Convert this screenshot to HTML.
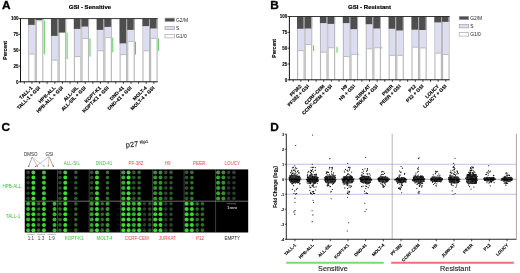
<!DOCTYPE html>
<html><head><meta charset="utf-8"><style>
html,body{margin:0;padding:0;background:#fff;overflow:hidden;}
svg{display:block;will-change:transform;}
</style></head><body>
<svg width="520" height="273" viewBox="0 0 520 273">
<rect width="520" height="273" fill="#fff"/>
<text transform="translate(2.0,9.3) scale(1.06,1)" font-family="Liberation Sans, sans-serif" font-weight="bold" font-size="11.2" fill="#000" stroke="#000" stroke-width="0.3">A</text>
<text transform="translate(270.2,9.4) scale(1.06,1)" font-family="Liberation Sans, sans-serif" font-weight="bold" font-size="11.2" fill="#000" stroke="#000" stroke-width="0.3">B</text>
<text transform="translate(1.6,131.0) scale(1.06,1)" font-family="Liberation Sans, sans-serif" font-weight="bold" font-size="11.2" fill="#000" stroke="#000" stroke-width="0.3">C</text>
<text transform="translate(270.2,131.0) scale(1.06,1)" font-family="Liberation Sans, sans-serif" font-weight="bold" font-size="11.2" fill="#000" stroke="#000" stroke-width="0.3">D</text>
<text x="90" y="9.1" font-family="Liberation Sans, sans-serif" font-weight="bold" font-size="6.05" stroke="#000" stroke-width="0.2" text-anchor="middle">GSI - Sensitive</text>
<rect x="28.12" y="18.60" width="1.15" height="63.20" fill="#b9b9b9"/>
<rect x="34.59" y="18.60" width="1.15" height="63.20" fill="#b9b9b9"/>
<rect x="29.27" y="24.90" width="5.32" height="29.20" fill="#dcdcf2"/>
<line x1="29.27" x2="34.59" y1="54.10" y2="54.10" stroke="#9a9a9a" stroke-width="0.6"/>
<rect x="28.12" y="18.60" width="6.62" height="6.30" fill="#4e4e4e"/>
<rect x="34.74" y="18.60" width="1.0" height="6.30" fill="#a8a8a8"/>
<rect x="35.74" y="18.60" width="1.15" height="63.20" fill="#b9b9b9"/>
<rect x="42.21" y="18.60" width="1.15" height="63.20" fill="#b9b9b9"/>
<rect x="36.89" y="20.00" width="5.32" height="0.80" fill="#dcdcf2"/>
<line x1="36.89" x2="42.21" y1="20.80" y2="20.80" stroke="#9a9a9a" stroke-width="0.6"/>
<rect x="35.74" y="18.60" width="6.62" height="1.40" fill="#4e4e4e"/>
<rect x="42.36" y="18.60" width="1.0" height="1.40" fill="#a8a8a8"/>
<rect x="50.98" y="18.60" width="1.15" height="63.20" fill="#b9b9b9"/>
<rect x="57.45" y="18.60" width="1.15" height="63.20" fill="#b9b9b9"/>
<rect x="52.13" y="35.90" width="5.32" height="24.30" fill="#dcdcf2"/>
<line x1="52.13" x2="57.45" y1="60.20" y2="60.20" stroke="#9a9a9a" stroke-width="0.6"/>
<rect x="50.98" y="18.60" width="6.62" height="17.30" fill="#4e4e4e"/>
<rect x="57.60" y="18.60" width="1.0" height="17.30" fill="#a8a8a8"/>
<rect x="58.60" y="18.60" width="1.15" height="63.20" fill="#b9b9b9"/>
<rect x="65.07" y="18.60" width="1.15" height="63.20" fill="#b9b9b9"/>
<rect x="58.60" y="18.60" width="6.62" height="14.00" fill="#4e4e4e"/>
<rect x="65.22" y="18.60" width="1.0" height="14.00" fill="#a8a8a8"/>
<rect x="73.84" y="18.60" width="1.15" height="63.20" fill="#b9b9b9"/>
<rect x="80.31" y="18.60" width="1.15" height="63.20" fill="#b9b9b9"/>
<rect x="74.99" y="28.90" width="5.32" height="27.60" fill="#dcdcf2"/>
<line x1="74.99" x2="80.31" y1="56.50" y2="56.50" stroke="#9a9a9a" stroke-width="0.6"/>
<rect x="73.84" y="18.60" width="6.62" height="10.30" fill="#4e4e4e"/>
<rect x="80.46" y="18.60" width="1.0" height="10.30" fill="#a8a8a8"/>
<rect x="81.46" y="18.60" width="1.15" height="63.20" fill="#b9b9b9"/>
<rect x="87.93" y="18.60" width="1.15" height="63.20" fill="#b9b9b9"/>
<rect x="82.61" y="26.60" width="5.32" height="11.80" fill="#dcdcf2"/>
<line x1="82.61" x2="87.93" y1="38.40" y2="38.40" stroke="#9a9a9a" stroke-width="0.6"/>
<rect x="81.46" y="18.60" width="6.62" height="8.00" fill="#4e4e4e"/>
<rect x="88.08" y="18.60" width="1.0" height="8.00" fill="#a8a8a8"/>
<rect x="96.70" y="18.60" width="1.15" height="63.20" fill="#b9b9b9"/>
<rect x="103.17" y="18.60" width="1.15" height="63.20" fill="#b9b9b9"/>
<rect x="97.85" y="29.90" width="5.32" height="20.90" fill="#dcdcf2"/>
<line x1="97.85" x2="103.17" y1="50.80" y2="50.80" stroke="#9a9a9a" stroke-width="0.6"/>
<rect x="96.70" y="18.60" width="6.62" height="11.30" fill="#4e4e4e"/>
<rect x="103.32" y="18.60" width="1.0" height="11.30" fill="#a8a8a8"/>
<rect x="104.32" y="18.60" width="1.15" height="63.20" fill="#b9b9b9"/>
<rect x="110.79" y="18.60" width="1.15" height="63.20" fill="#b9b9b9"/>
<rect x="105.47" y="26.90" width="5.32" height="10.70" fill="#dcdcf2"/>
<line x1="105.47" x2="110.79" y1="37.60" y2="37.60" stroke="#9a9a9a" stroke-width="0.6"/>
<rect x="104.32" y="18.60" width="6.62" height="8.30" fill="#4e4e4e"/>
<rect x="110.94" y="18.60" width="1.0" height="8.30" fill="#a8a8a8"/>
<rect x="119.56" y="18.60" width="1.15" height="63.20" fill="#b9b9b9"/>
<rect x="126.03" y="18.60" width="1.15" height="63.20" fill="#b9b9b9"/>
<rect x="120.71" y="43.40" width="5.32" height="11.20" fill="#dcdcf2"/>
<line x1="120.71" x2="126.03" y1="54.60" y2="54.60" stroke="#9a9a9a" stroke-width="0.6"/>
<rect x="119.56" y="18.60" width="6.62" height="24.80" fill="#4e4e4e"/>
<rect x="126.18" y="18.60" width="1.0" height="24.80" fill="#a8a8a8"/>
<rect x="127.18" y="18.60" width="1.15" height="63.20" fill="#b9b9b9"/>
<rect x="133.65" y="18.60" width="1.15" height="63.20" fill="#b9b9b9"/>
<rect x="128.33" y="29.90" width="5.32" height="11.50" fill="#dcdcf2"/>
<line x1="128.33" x2="133.65" y1="41.40" y2="41.40" stroke="#9a9a9a" stroke-width="0.6"/>
<rect x="127.18" y="18.60" width="6.62" height="11.30" fill="#4e4e4e"/>
<rect x="133.80" y="18.60" width="1.0" height="11.30" fill="#a8a8a8"/>
<rect x="142.42" y="18.60" width="1.15" height="63.20" fill="#b9b9b9"/>
<rect x="148.89" y="18.60" width="1.15" height="63.20" fill="#b9b9b9"/>
<rect x="143.57" y="26.10" width="5.32" height="24.70" fill="#dcdcf2"/>
<line x1="143.57" x2="148.89" y1="50.80" y2="50.80" stroke="#9a9a9a" stroke-width="0.6"/>
<rect x="142.42" y="18.60" width="6.62" height="7.50" fill="#4e4e4e"/>
<rect x="149.04" y="18.60" width="1.0" height="7.50" fill="#a8a8a8"/>
<rect x="150.04" y="18.60" width="1.15" height="63.20" fill="#b9b9b9"/>
<rect x="156.51" y="18.60" width="1.15" height="63.20" fill="#b9b9b9"/>
<rect x="151.19" y="28.50" width="5.32" height="9.90" fill="#dcdcf2"/>
<line x1="151.19" x2="156.51" y1="38.40" y2="38.40" stroke="#9a9a9a" stroke-width="0.6"/>
<rect x="150.04" y="18.60" width="6.62" height="9.90" fill="#4e4e4e"/>
<rect x="156.66" y="18.60" width="1.0" height="9.90" fill="#a8a8a8"/>
<line x1="44.3" x2="44.3" y1="20.5" y2="54" stroke="#58cc58" stroke-width="1.0"/>
<line x1="67.1" x2="67.1" y1="32.6" y2="59" stroke="#58cc58" stroke-width="1.0"/>
<line x1="90.0" x2="90.0" y1="38.4" y2="56.5" stroke="#58cc58" stroke-width="1.0"/>
<line x1="112.8" x2="112.8" y1="37.6" y2="52.4" stroke="#58cc58" stroke-width="1.0"/>
<line x1="135.5" x2="135.5" y1="41.7" y2="54.6" stroke="#58cc58" stroke-width="1.0"/>
<line x1="158.4" x2="158.4" y1="38.4" y2="50.8" stroke="#58cc58" stroke-width="1.0"/>
<line x1="20.50" x2="20.50" y1="18.10" y2="82.30" stroke="#111" stroke-width="1"/>
<line x1="20.00" x2="157.66" y1="81.80" y2="81.80" stroke="#111" stroke-width="1"/>
<line x1="20.50" x2="157.66" y1="18.60" y2="18.60" stroke="#222" stroke-width="0.9"/>
<line x1="18.70" x2="20.50" y1="81.80" y2="81.80" stroke="#111" stroke-width="0.8"/>
<text x="18.40" y="83.50" font-family="Liberation Sans, sans-serif" font-weight="bold" font-size="4.5" stroke="#000" stroke-width="0.1" text-anchor="end">0</text>
<line x1="18.70" x2="20.50" y1="66.00" y2="66.00" stroke="#111" stroke-width="0.8"/>
<text x="18.40" y="67.70" font-family="Liberation Sans, sans-serif" font-weight="bold" font-size="4.5" stroke="#000" stroke-width="0.1" text-anchor="end">25</text>
<line x1="18.70" x2="20.50" y1="50.20" y2="50.20" stroke="#111" stroke-width="0.8"/>
<text x="18.40" y="51.90" font-family="Liberation Sans, sans-serif" font-weight="bold" font-size="4.5" stroke="#000" stroke-width="0.1" text-anchor="end">50</text>
<line x1="18.70" x2="20.50" y1="34.40" y2="34.40" stroke="#111" stroke-width="0.8"/>
<text x="18.40" y="36.10" font-family="Liberation Sans, sans-serif" font-weight="bold" font-size="4.5" stroke="#000" stroke-width="0.1" text-anchor="end">75</text>
<line x1="18.70" x2="20.50" y1="18.60" y2="18.60" stroke="#111" stroke-width="0.8"/>
<text x="18.40" y="20.30" font-family="Liberation Sans, sans-serif" font-weight="bold" font-size="4.5" stroke="#000" stroke-width="0.1" text-anchor="end">100</text>
<line x1="24.31" x2="24.31" y1="81.80" y2="83.80" stroke="#111" stroke-width="0.8"/>
<line x1="31.93" x2="31.93" y1="81.80" y2="83.80" stroke="#111" stroke-width="0.8"/>
<line x1="39.55" x2="39.55" y1="81.80" y2="83.80" stroke="#111" stroke-width="0.8"/>
<line x1="47.17" x2="47.17" y1="81.80" y2="83.80" stroke="#111" stroke-width="0.8"/>
<line x1="54.79" x2="54.79" y1="81.80" y2="83.80" stroke="#111" stroke-width="0.8"/>
<line x1="62.41" x2="62.41" y1="81.80" y2="83.80" stroke="#111" stroke-width="0.8"/>
<line x1="70.03" x2="70.03" y1="81.80" y2="83.80" stroke="#111" stroke-width="0.8"/>
<line x1="77.65" x2="77.65" y1="81.80" y2="83.80" stroke="#111" stroke-width="0.8"/>
<line x1="85.27" x2="85.27" y1="81.80" y2="83.80" stroke="#111" stroke-width="0.8"/>
<line x1="92.89" x2="92.89" y1="81.80" y2="83.80" stroke="#111" stroke-width="0.8"/>
<line x1="100.51" x2="100.51" y1="81.80" y2="83.80" stroke="#111" stroke-width="0.8"/>
<line x1="108.13" x2="108.13" y1="81.80" y2="83.80" stroke="#111" stroke-width="0.8"/>
<line x1="115.75" x2="115.75" y1="81.80" y2="83.80" stroke="#111" stroke-width="0.8"/>
<line x1="123.37" x2="123.37" y1="81.80" y2="83.80" stroke="#111" stroke-width="0.8"/>
<line x1="130.99" x2="130.99" y1="81.80" y2="83.80" stroke="#111" stroke-width="0.8"/>
<line x1="138.61" x2="138.61" y1="81.80" y2="83.80" stroke="#111" stroke-width="0.8"/>
<line x1="146.23" x2="146.23" y1="81.80" y2="83.80" stroke="#111" stroke-width="0.8"/>
<line x1="153.85" x2="153.85" y1="81.80" y2="83.80" stroke="#111" stroke-width="0.8"/>
<text transform="translate(6.5,50.4) rotate(-90)" font-family="Liberation Sans, sans-serif" font-weight="bold" font-size="5.1" stroke="#000" stroke-width="0.12" text-anchor="middle">Percent</text>
<text transform="translate(32.93,88.20) rotate(-45)" font-family="Liberation Sans, sans-serif" font-weight="bold" font-size="4.9" stroke="#000" stroke-width="0.12" text-anchor="end">TALL-1</text>
<text transform="translate(40.55,88.20) rotate(-45)" font-family="Liberation Sans, sans-serif" font-weight="bold" font-size="4.9" stroke="#000" stroke-width="0.12" text-anchor="end">TALL-1 + GSI</text>
<text transform="translate(55.79,88.20) rotate(-45)" font-family="Liberation Sans, sans-serif" font-weight="bold" font-size="4.9" stroke="#000" stroke-width="0.12" text-anchor="end">HPB-ALL</text>
<text transform="translate(63.41,88.20) rotate(-45)" font-family="Liberation Sans, sans-serif" font-weight="bold" font-size="4.9" stroke="#000" stroke-width="0.12" text-anchor="end">HPB-ALL + GSI</text>
<text transform="translate(78.65,88.20) rotate(-45)" font-family="Liberation Sans, sans-serif" font-weight="bold" font-size="4.9" stroke="#000" stroke-width="0.12" text-anchor="end">ALL-SIL</text>
<text transform="translate(86.27,88.20) rotate(-45)" font-family="Liberation Sans, sans-serif" font-weight="bold" font-size="4.9" stroke="#000" stroke-width="0.12" text-anchor="end">ALL-SIL + GSI</text>
<text transform="translate(101.51,88.20) rotate(-45)" font-family="Liberation Sans, sans-serif" font-weight="bold" font-size="4.9" stroke="#000" stroke-width="0.12" text-anchor="end">KOPT-K1</text>
<text transform="translate(109.13,88.20) rotate(-45)" font-family="Liberation Sans, sans-serif" font-weight="bold" font-size="4.9" stroke="#000" stroke-width="0.12" text-anchor="end">KOPT-K1 + GSI</text>
<text transform="translate(124.37,88.20) rotate(-45)" font-family="Liberation Sans, sans-serif" font-weight="bold" font-size="4.9" stroke="#000" stroke-width="0.12" text-anchor="end">DND-41</text>
<text transform="translate(131.99,88.20) rotate(-45)" font-family="Liberation Sans, sans-serif" font-weight="bold" font-size="4.9" stroke="#000" stroke-width="0.12" text-anchor="end">DND-41 + GSI</text>
<text transform="translate(147.23,88.20) rotate(-45)" font-family="Liberation Sans, sans-serif" font-weight="bold" font-size="4.9" stroke="#000" stroke-width="0.12" text-anchor="end">MOLT-4</text>
<text transform="translate(154.85,88.20) rotate(-45)" font-family="Liberation Sans, sans-serif" font-weight="bold" font-size="4.9" stroke="#000" stroke-width="0.12" text-anchor="end">MOLT-4 + GSI</text>
<rect x="165" y="18.1" width="9.5" height="3.4" fill="#4e4e4e" stroke="#999" stroke-width="0.6"/>
<text x="176" y="21.6" font-family="Liberation Sans, sans-serif" font-size="4.9" fill="#222">G2/M</text>
<rect x="165" y="26.3" width="9.5" height="3.4" fill="#dcdcf2" stroke="#999" stroke-width="0.6"/>
<text x="176" y="29.8" font-family="Liberation Sans, sans-serif" font-size="4.9" fill="#222">S</text>
<rect x="165" y="34.5" width="9.5" height="3.4" fill="#fff" stroke="#999" stroke-width="0.6"/>
<text x="176" y="38.0" font-family="Liberation Sans, sans-serif" font-size="4.9" fill="#222">G1/0</text>
<text x="369.5" y="9.1" font-family="Liberation Sans, sans-serif" font-weight="bold" font-size="6.05" stroke="#000" stroke-width="0.2" text-anchor="middle">GSI - Resistant</text>
<rect x="297.03" y="16.50" width="1.15" height="63.30" fill="#b9b9b9"/>
<rect x="303.51" y="16.50" width="1.15" height="63.30" fill="#b9b9b9"/>
<rect x="298.18" y="28.80" width="5.33" height="21.80" fill="#dcdcf2"/>
<line x1="298.18" x2="303.51" y1="50.60" y2="50.60" stroke="#9a9a9a" stroke-width="0.6"/>
<rect x="297.03" y="16.50" width="6.63" height="12.30" fill="#4e4e4e"/>
<rect x="303.66" y="16.50" width="1.0" height="12.30" fill="#a8a8a8"/>
<rect x="304.66" y="16.50" width="1.15" height="63.30" fill="#b9b9b9"/>
<rect x="311.14" y="16.50" width="1.15" height="63.30" fill="#b9b9b9"/>
<rect x="305.81" y="28.50" width="5.33" height="16.00" fill="#dcdcf2"/>
<line x1="305.81" x2="311.14" y1="44.50" y2="44.50" stroke="#9a9a9a" stroke-width="0.6"/>
<rect x="304.66" y="16.50" width="6.63" height="12.00" fill="#4e4e4e"/>
<rect x="311.29" y="16.50" width="1.0" height="12.00" fill="#a8a8a8"/>
<rect x="319.92" y="16.50" width="1.15" height="63.30" fill="#b9b9b9"/>
<rect x="326.40" y="16.50" width="1.15" height="63.30" fill="#b9b9b9"/>
<rect x="321.07" y="23.10" width="5.33" height="29.10" fill="#dcdcf2"/>
<line x1="321.07" x2="326.40" y1="52.20" y2="52.20" stroke="#9a9a9a" stroke-width="0.6"/>
<rect x="319.92" y="16.50" width="6.63" height="6.60" fill="#4e4e4e"/>
<rect x="326.55" y="16.50" width="1.0" height="6.60" fill="#a8a8a8"/>
<rect x="327.55" y="16.50" width="1.15" height="63.30" fill="#b9b9b9"/>
<rect x="334.03" y="16.50" width="1.15" height="63.30" fill="#b9b9b9"/>
<rect x="328.70" y="23.90" width="5.33" height="23.90" fill="#dcdcf2"/>
<line x1="328.70" x2="334.03" y1="47.80" y2="47.80" stroke="#9a9a9a" stroke-width="0.6"/>
<rect x="327.55" y="16.50" width="6.63" height="7.40" fill="#4e4e4e"/>
<rect x="334.18" y="16.50" width="1.0" height="7.40" fill="#a8a8a8"/>
<rect x="342.81" y="16.50" width="1.15" height="63.30" fill="#b9b9b9"/>
<rect x="349.29" y="16.50" width="1.15" height="63.30" fill="#b9b9b9"/>
<rect x="343.96" y="23.10" width="5.33" height="33.40" fill="#dcdcf2"/>
<line x1="343.96" x2="349.29" y1="56.50" y2="56.50" stroke="#9a9a9a" stroke-width="0.6"/>
<rect x="342.81" y="16.50" width="6.63" height="6.60" fill="#4e4e4e"/>
<rect x="349.44" y="16.50" width="1.0" height="6.60" fill="#a8a8a8"/>
<rect x="350.44" y="16.50" width="1.15" height="63.30" fill="#b9b9b9"/>
<rect x="356.92" y="16.50" width="1.15" height="63.30" fill="#b9b9b9"/>
<rect x="351.59" y="29.20" width="5.33" height="25.20" fill="#dcdcf2"/>
<line x1="351.59" x2="356.92" y1="54.40" y2="54.40" stroke="#9a9a9a" stroke-width="0.6"/>
<rect x="350.44" y="16.50" width="6.63" height="12.70" fill="#4e4e4e"/>
<rect x="357.07" y="16.50" width="1.0" height="12.70" fill="#a8a8a8"/>
<rect x="365.70" y="16.50" width="1.15" height="63.30" fill="#b9b9b9"/>
<rect x="372.18" y="16.50" width="1.15" height="63.30" fill="#b9b9b9"/>
<rect x="366.85" y="24.20" width="5.33" height="24.70" fill="#dcdcf2"/>
<line x1="366.85" x2="372.18" y1="48.90" y2="48.90" stroke="#9a9a9a" stroke-width="0.6"/>
<rect x="365.70" y="16.50" width="6.63" height="7.70" fill="#4e4e4e"/>
<rect x="372.33" y="16.50" width="1.0" height="7.70" fill="#a8a8a8"/>
<rect x="373.33" y="16.50" width="1.15" height="63.30" fill="#b9b9b9"/>
<rect x="379.81" y="16.50" width="1.15" height="63.30" fill="#b9b9b9"/>
<rect x="374.48" y="28.50" width="5.33" height="19.30" fill="#dcdcf2"/>
<line x1="374.48" x2="379.81" y1="47.80" y2="47.80" stroke="#9a9a9a" stroke-width="0.6"/>
<rect x="373.33" y="16.50" width="6.63" height="12.00" fill="#4e4e4e"/>
<rect x="379.96" y="16.50" width="1.0" height="12.00" fill="#a8a8a8"/>
<rect x="388.59" y="16.50" width="1.15" height="63.30" fill="#b9b9b9"/>
<rect x="395.07" y="16.50" width="1.15" height="63.30" fill="#b9b9b9"/>
<rect x="389.74" y="28.80" width="5.33" height="26.60" fill="#dcdcf2"/>
<line x1="389.74" x2="395.07" y1="55.40" y2="55.40" stroke="#9a9a9a" stroke-width="0.6"/>
<rect x="388.59" y="16.50" width="6.63" height="12.30" fill="#4e4e4e"/>
<rect x="395.22" y="16.50" width="1.0" height="12.30" fill="#a8a8a8"/>
<rect x="396.22" y="16.50" width="1.15" height="63.30" fill="#b9b9b9"/>
<rect x="402.70" y="16.50" width="1.15" height="63.30" fill="#b9b9b9"/>
<rect x="397.37" y="30.50" width="5.33" height="24.90" fill="#dcdcf2"/>
<line x1="397.37" x2="402.70" y1="55.40" y2="55.40" stroke="#9a9a9a" stroke-width="0.6"/>
<rect x="396.22" y="16.50" width="6.63" height="14.00" fill="#4e4e4e"/>
<rect x="402.85" y="16.50" width="1.0" height="14.00" fill="#a8a8a8"/>
<rect x="411.48" y="16.50" width="1.15" height="63.30" fill="#b9b9b9"/>
<rect x="417.96" y="16.50" width="1.15" height="63.30" fill="#b9b9b9"/>
<rect x="412.63" y="29.70" width="5.33" height="17.50" fill="#dcdcf2"/>
<line x1="412.63" x2="417.96" y1="47.20" y2="47.20" stroke="#9a9a9a" stroke-width="0.6"/>
<rect x="411.48" y="16.50" width="6.63" height="13.20" fill="#4e4e4e"/>
<rect x="418.11" y="16.50" width="1.0" height="13.20" fill="#a8a8a8"/>
<rect x="419.11" y="16.50" width="1.15" height="63.30" fill="#b9b9b9"/>
<rect x="425.59" y="16.50" width="1.15" height="63.30" fill="#b9b9b9"/>
<rect x="420.26" y="30.00" width="5.33" height="18.00" fill="#dcdcf2"/>
<line x1="420.26" x2="425.59" y1="48.00" y2="48.00" stroke="#9a9a9a" stroke-width="0.6"/>
<rect x="419.11" y="16.50" width="6.63" height="13.50" fill="#4e4e4e"/>
<rect x="425.74" y="16.50" width="1.0" height="13.50" fill="#a8a8a8"/>
<rect x="434.37" y="16.50" width="1.15" height="63.30" fill="#b9b9b9"/>
<rect x="440.85" y="16.50" width="1.15" height="63.30" fill="#b9b9b9"/>
<rect x="435.52" y="22.40" width="5.33" height="30.80" fill="#dcdcf2"/>
<line x1="435.52" x2="440.85" y1="53.20" y2="53.20" stroke="#9a9a9a" stroke-width="0.6"/>
<rect x="434.37" y="16.50" width="6.63" height="5.90" fill="#4e4e4e"/>
<rect x="441.00" y="16.50" width="1.0" height="5.90" fill="#a8a8a8"/>
<rect x="442.00" y="16.50" width="1.15" height="63.30" fill="#b9b9b9"/>
<rect x="448.48" y="16.50" width="1.15" height="63.30" fill="#b9b9b9"/>
<rect x="443.15" y="21.90" width="5.33" height="32.60" fill="#dcdcf2"/>
<line x1="443.15" x2="448.48" y1="54.50" y2="54.50" stroke="#9a9a9a" stroke-width="0.6"/>
<rect x="442.00" y="16.50" width="6.63" height="5.40" fill="#4e4e4e"/>
<rect x="448.63" y="16.50" width="1.0" height="5.40" fill="#a8a8a8"/>
<line x1="313.6" x2="313.6" y1="45.3" y2="51" stroke="#58cc58" stroke-width="1.0"/>
<line x1="337.0" x2="337.0" y1="47" y2="52.7" stroke="#58cc58" stroke-width="1.0"/>
<line x1="358.0" x2="358.0" y1="53.5" y2="55" stroke="#58cc58" stroke-width="1.0"/>
<line x1="381.2" x2="381.2" y1="47" y2="48.6" stroke="#58cc58" stroke-width="1.0"/>
<line x1="289.40" x2="289.40" y1="16.00" y2="80.30" stroke="#111" stroke-width="1"/>
<line x1="288.90" x2="449.63" y1="79.80" y2="79.80" stroke="#111" stroke-width="1"/>
<line x1="289.40" x2="449.63" y1="16.50" y2="16.50" stroke="#222" stroke-width="0.9"/>
<line x1="287.60" x2="289.40" y1="79.80" y2="79.80" stroke="#111" stroke-width="0.8"/>
<text x="287.30" y="81.50" font-family="Liberation Sans, sans-serif" font-weight="bold" font-size="4.5" stroke="#000" stroke-width="0.1" text-anchor="end">0</text>
<line x1="287.60" x2="289.40" y1="63.97" y2="63.97" stroke="#111" stroke-width="0.8"/>
<text x="287.30" y="65.67" font-family="Liberation Sans, sans-serif" font-weight="bold" font-size="4.5" stroke="#000" stroke-width="0.1" text-anchor="end">25</text>
<line x1="287.60" x2="289.40" y1="48.15" y2="48.15" stroke="#111" stroke-width="0.8"/>
<text x="287.30" y="49.85" font-family="Liberation Sans, sans-serif" font-weight="bold" font-size="4.5" stroke="#000" stroke-width="0.1" text-anchor="end">50</text>
<line x1="287.60" x2="289.40" y1="32.32" y2="32.32" stroke="#111" stroke-width="0.8"/>
<text x="287.30" y="34.02" font-family="Liberation Sans, sans-serif" font-weight="bold" font-size="4.5" stroke="#000" stroke-width="0.1" text-anchor="end">75</text>
<line x1="287.60" x2="289.40" y1="16.50" y2="16.50" stroke="#111" stroke-width="0.8"/>
<text x="287.30" y="18.20" font-family="Liberation Sans, sans-serif" font-weight="bold" font-size="4.5" stroke="#000" stroke-width="0.1" text-anchor="end">100</text>
<line x1="293.21" x2="293.21" y1="79.80" y2="81.80" stroke="#111" stroke-width="0.8"/>
<line x1="300.84" x2="300.84" y1="79.80" y2="81.80" stroke="#111" stroke-width="0.8"/>
<line x1="308.47" x2="308.47" y1="79.80" y2="81.80" stroke="#111" stroke-width="0.8"/>
<line x1="316.10" x2="316.10" y1="79.80" y2="81.80" stroke="#111" stroke-width="0.8"/>
<line x1="323.73" x2="323.73" y1="79.80" y2="81.80" stroke="#111" stroke-width="0.8"/>
<line x1="331.36" x2="331.36" y1="79.80" y2="81.80" stroke="#111" stroke-width="0.8"/>
<line x1="339.00" x2="339.00" y1="79.80" y2="81.80" stroke="#111" stroke-width="0.8"/>
<line x1="346.62" x2="346.62" y1="79.80" y2="81.80" stroke="#111" stroke-width="0.8"/>
<line x1="354.25" x2="354.25" y1="79.80" y2="81.80" stroke="#111" stroke-width="0.8"/>
<line x1="361.88" x2="361.88" y1="79.80" y2="81.80" stroke="#111" stroke-width="0.8"/>
<line x1="369.51" x2="369.51" y1="79.80" y2="81.80" stroke="#111" stroke-width="0.8"/>
<line x1="377.14" x2="377.14" y1="79.80" y2="81.80" stroke="#111" stroke-width="0.8"/>
<line x1="384.77" x2="384.77" y1="79.80" y2="81.80" stroke="#111" stroke-width="0.8"/>
<line x1="392.40" x2="392.40" y1="79.80" y2="81.80" stroke="#111" stroke-width="0.8"/>
<line x1="400.03" x2="400.03" y1="79.80" y2="81.80" stroke="#111" stroke-width="0.8"/>
<line x1="407.66" x2="407.66" y1="79.80" y2="81.80" stroke="#111" stroke-width="0.8"/>
<line x1="415.29" x2="415.29" y1="79.80" y2="81.80" stroke="#111" stroke-width="0.8"/>
<line x1="422.92" x2="422.92" y1="79.80" y2="81.80" stroke="#111" stroke-width="0.8"/>
<line x1="430.55" x2="430.55" y1="79.80" y2="81.80" stroke="#111" stroke-width="0.8"/>
<line x1="438.18" x2="438.18" y1="79.80" y2="81.80" stroke="#111" stroke-width="0.8"/>
<line x1="445.81" x2="445.81" y1="79.80" y2="81.80" stroke="#111" stroke-width="0.8"/>
<text transform="translate(275.9,48.3) rotate(-90)" font-family="Liberation Sans, sans-serif" font-weight="bold" font-size="5.1" stroke="#000" stroke-width="0.12" text-anchor="middle">Percent</text>
<text transform="translate(301.94,86.60) rotate(-45)" font-family="Liberation Sans, sans-serif" font-weight="bold" font-size="4.9" stroke="#000" stroke-width="0.12" text-anchor="end">PF382</text>
<text transform="translate(309.57,86.60) rotate(-45)" font-family="Liberation Sans, sans-serif" font-weight="bold" font-size="4.9" stroke="#000" stroke-width="0.12" text-anchor="end">PF382 + GSI</text>
<text transform="translate(324.83,86.60) rotate(-45)" font-family="Liberation Sans, sans-serif" font-weight="bold" font-size="4.9" stroke="#000" stroke-width="0.12" text-anchor="end">CCRF-CEM</text>
<text transform="translate(332.46,86.60) rotate(-45)" font-family="Liberation Sans, sans-serif" font-weight="bold" font-size="4.9" stroke="#000" stroke-width="0.12" text-anchor="end">CCRF-CEM + GSI</text>
<text transform="translate(347.73,86.60) rotate(-45)" font-family="Liberation Sans, sans-serif" font-weight="bold" font-size="4.9" stroke="#000" stroke-width="0.12" text-anchor="end">H9</text>
<text transform="translate(355.36,86.60) rotate(-45)" font-family="Liberation Sans, sans-serif" font-weight="bold" font-size="4.9" stroke="#000" stroke-width="0.12" text-anchor="end">H9 + GSI</text>
<text transform="translate(370.62,86.60) rotate(-45)" font-family="Liberation Sans, sans-serif" font-weight="bold" font-size="4.9" stroke="#000" stroke-width="0.12" text-anchor="end">JURKAT</text>
<text transform="translate(378.25,86.60) rotate(-45)" font-family="Liberation Sans, sans-serif" font-weight="bold" font-size="4.9" stroke="#000" stroke-width="0.12" text-anchor="end">JURKAT + GSI</text>
<text transform="translate(393.50,86.60) rotate(-45)" font-family="Liberation Sans, sans-serif" font-weight="bold" font-size="4.9" stroke="#000" stroke-width="0.12" text-anchor="end">PEER</text>
<text transform="translate(401.13,86.60) rotate(-45)" font-family="Liberation Sans, sans-serif" font-weight="bold" font-size="4.9" stroke="#000" stroke-width="0.12" text-anchor="end">PEER + GSI</text>
<text transform="translate(416.39,86.60) rotate(-45)" font-family="Liberation Sans, sans-serif" font-weight="bold" font-size="4.9" stroke="#000" stroke-width="0.12" text-anchor="end">P12</text>
<text transform="translate(424.02,86.60) rotate(-45)" font-family="Liberation Sans, sans-serif" font-weight="bold" font-size="4.9" stroke="#000" stroke-width="0.12" text-anchor="end">P12 + GSI</text>
<text transform="translate(439.28,86.60) rotate(-45)" font-family="Liberation Sans, sans-serif" font-weight="bold" font-size="4.9" stroke="#000" stroke-width="0.12" text-anchor="end">LOUCY</text>
<text transform="translate(446.91,86.60) rotate(-45)" font-family="Liberation Sans, sans-serif" font-weight="bold" font-size="4.9" stroke="#000" stroke-width="0.12" text-anchor="end">LOUCY + GSI</text>
<rect x="459.2" y="16.3" width="9.5" height="3.4" fill="#4e4e4e" stroke="#999" stroke-width="0.6"/>
<text x="470.2" y="19.8" font-family="Liberation Sans, sans-serif" font-size="4.9" fill="#222">G2/M</text>
<rect x="459.2" y="24.5" width="9.5" height="3.4" fill="#dcdcf2" stroke="#999" stroke-width="0.6"/>
<text x="470.2" y="28.0" font-family="Liberation Sans, sans-serif" font-size="4.9" fill="#222">S</text>
<rect x="459.2" y="32.7" width="9.5" height="3.4" fill="#fff" stroke="#999" stroke-width="0.6"/>
<text x="470.2" y="36.2" font-family="Liberation Sans, sans-serif" font-size="4.9" fill="#222">G1/0</text>
<rect x="24.75" y="169.4" width="223.45" height="63.10" fill="#000"/>
<defs><filter id="bl" x="-20%" y="-20%" width="140%" height="140%"><feGaussianBlur stdDeviation="0.5"/></filter></defs>
<g filter="url(#bl)">
<circle cx="28.10" cy="172.40" r="1.8" fill="rgb(58,70,58)"/>
<circle cx="28.10" cy="177.60" r="1.8" fill="rgb(44,69,43)"/>
<circle cx="28.10" cy="182.80" r="1.8" fill="rgb(44,69,43)"/>
<circle cx="28.10" cy="188.00" r="1.8" fill="rgb(44,69,43)"/>
<circle cx="28.10" cy="193.20" r="1.8" fill="rgb(44,69,43)"/>
<circle cx="28.10" cy="198.40" r="1.8" fill="rgb(44,69,43)"/>
<circle cx="33.38" cy="172.40" r="2.0" fill="rgb(90,190,90)"/>
<circle cx="33.38" cy="177.60" r="2.0" fill="rgb(60,225,48)"/>
<circle cx="33.38" cy="182.80" r="2.0" fill="rgb(60,225,48)"/>
<circle cx="33.38" cy="188.00" r="2.0" fill="rgb(60,225,48)"/>
<circle cx="33.38" cy="193.20" r="2.0" fill="rgb(60,225,48)"/>
<circle cx="33.38" cy="198.40" r="2.0" fill="rgb(60,225,48)"/>
<circle cx="43.94" cy="172.40" r="2.0" fill="rgb(86,175,86)"/>
<circle cx="43.94" cy="177.60" r="2.0" fill="rgb(58,205,47)"/>
<circle cx="43.94" cy="182.80" r="2.0" fill="rgb(58,205,47)"/>
<circle cx="43.94" cy="188.00" r="2.0" fill="rgb(58,205,47)"/>
<circle cx="43.94" cy="193.20" r="2.0" fill="rgb(58,205,47)"/>
<circle cx="43.94" cy="198.40" r="2.0" fill="rgb(58,205,47)"/>
<circle cx="60.00" cy="172.40" r="1.8" fill="rgb(58,73,58)"/>
<circle cx="60.00" cy="177.60" r="1.8" fill="rgb(44,72,43)"/>
<circle cx="60.00" cy="182.80" r="1.8" fill="rgb(44,72,43)"/>
<circle cx="60.00" cy="188.00" r="1.8" fill="rgb(44,72,43)"/>
<circle cx="60.00" cy="193.20" r="1.8" fill="rgb(44,72,43)"/>
<circle cx="60.00" cy="198.40" r="1.8" fill="rgb(44,72,43)"/>
<circle cx="65.28" cy="172.40" r="2.0" fill="rgb(90,190,90)"/>
<circle cx="65.28" cy="177.60" r="2.0" fill="rgb(60,225,48)"/>
<circle cx="65.28" cy="182.80" r="2.0" fill="rgb(60,225,48)"/>
<circle cx="65.28" cy="188.00" r="2.0" fill="rgb(60,225,48)"/>
<circle cx="65.28" cy="193.20" r="2.0" fill="rgb(60,225,48)"/>
<circle cx="65.28" cy="198.40" r="2.0" fill="rgb(60,225,48)"/>
<circle cx="75.84" cy="172.40" r="1.8" fill="rgb(62,85,62)"/>
<circle cx="75.84" cy="177.60" r="1.8" fill="rgb(46,88,43)"/>
<circle cx="75.84" cy="182.80" r="1.8" fill="rgb(46,88,43)"/>
<circle cx="75.84" cy="188.00" r="1.8" fill="rgb(46,88,43)"/>
<circle cx="75.84" cy="193.20" r="1.8" fill="rgb(46,88,43)"/>
<circle cx="75.84" cy="198.40" r="1.8" fill="rgb(46,88,43)"/>
<circle cx="91.70" cy="172.40" r="1.8" fill="rgb(60,77,60)"/>
<circle cx="91.70" cy="177.60" r="1.8" fill="rgb(45,78,43)"/>
<circle cx="91.70" cy="182.80" r="1.8" fill="rgb(45,78,43)"/>
<circle cx="91.70" cy="188.00" r="1.8" fill="rgb(45,78,43)"/>
<circle cx="91.70" cy="193.20" r="1.8" fill="rgb(45,78,43)"/>
<circle cx="91.70" cy="198.40" r="1.8" fill="rgb(45,78,43)"/>
<circle cx="96.98" cy="172.40" r="2.0" fill="rgb(88,182,88)"/>
<circle cx="96.98" cy="177.60" r="2.0" fill="rgb(59,215,47)"/>
<circle cx="96.98" cy="182.80" r="2.0" fill="rgb(59,215,47)"/>
<circle cx="96.98" cy="188.00" r="2.0" fill="rgb(59,215,47)"/>
<circle cx="96.98" cy="193.20" r="2.0" fill="rgb(59,215,47)"/>
<circle cx="96.98" cy="198.40" r="2.0" fill="rgb(59,215,47)"/>
<circle cx="107.54" cy="172.40" r="1.8" fill="rgb(66,103,66)"/>
<circle cx="107.54" cy="177.60" r="1.8" fill="rgb(48,111,44)"/>
<circle cx="107.54" cy="182.80" r="1.8" fill="rgb(48,111,44)"/>
<circle cx="107.54" cy="188.00" r="1.8" fill="rgb(48,111,44)"/>
<circle cx="107.54" cy="193.20" r="1.8" fill="rgb(48,111,44)"/>
<circle cx="107.54" cy="198.40" r="1.8" fill="rgb(48,111,44)"/>
<circle cx="123.30" cy="172.40" r="2.0" fill="rgb(80,152,80)"/>
<circle cx="123.30" cy="177.60" r="2.0" fill="rgb(55,176,46)"/>
<circle cx="123.30" cy="182.80" r="2.0" fill="rgb(55,176,46)"/>
<circle cx="123.30" cy="188.00" r="2.0" fill="rgb(55,176,46)"/>
<circle cx="123.30" cy="193.20" r="2.0" fill="rgb(55,176,46)"/>
<circle cx="123.30" cy="198.40" r="2.0" fill="rgb(55,176,46)"/>
<circle cx="128.58" cy="172.40" r="2.0" fill="rgb(90,190,90)"/>
<circle cx="128.58" cy="177.60" r="2.0" fill="rgb(60,225,48)"/>
<circle cx="128.58" cy="182.80" r="2.0" fill="rgb(60,225,48)"/>
<circle cx="128.58" cy="188.00" r="2.0" fill="rgb(60,225,48)"/>
<circle cx="128.58" cy="193.20" r="2.0" fill="rgb(60,225,48)"/>
<circle cx="128.58" cy="198.40" r="2.0" fill="rgb(60,225,48)"/>
<circle cx="133.86" cy="172.40" r="1.8" fill="rgb(62,85,62)"/>
<circle cx="133.86" cy="177.60" r="1.8" fill="rgb(46,88,43)"/>
<circle cx="133.86" cy="182.80" r="1.8" fill="rgb(46,88,43)"/>
<circle cx="133.86" cy="188.00" r="1.8" fill="rgb(46,88,43)"/>
<circle cx="133.86" cy="193.20" r="1.8" fill="rgb(46,88,43)"/>
<circle cx="133.86" cy="198.40" r="1.8" fill="rgb(46,88,43)"/>
<circle cx="139.14" cy="172.40" r="1.8" fill="rgb(65,97,65)"/>
<circle cx="139.14" cy="177.60" r="1.8" fill="rgb(47,104,44)"/>
<circle cx="139.14" cy="182.80" r="1.8" fill="rgb(47,104,44)"/>
<circle cx="139.14" cy="188.00" r="1.8" fill="rgb(47,104,44)"/>
<circle cx="139.14" cy="193.20" r="1.8" fill="rgb(47,104,44)"/>
<circle cx="139.14" cy="198.40" r="1.8" fill="rgb(47,104,44)"/>
<circle cx="155.20" cy="172.40" r="2.0" fill="rgb(74,133,74)"/>
<circle cx="155.20" cy="177.60" r="2.0" fill="rgb(52,150,45)"/>
<circle cx="155.20" cy="182.80" r="2.0" fill="rgb(52,150,45)"/>
<circle cx="155.20" cy="188.00" r="2.0" fill="rgb(52,150,45)"/>
<circle cx="155.20" cy="193.20" r="2.0" fill="rgb(52,150,45)"/>
<circle cx="155.20" cy="198.40" r="2.0" fill="rgb(52,150,45)"/>
<circle cx="160.48" cy="172.40" r="2.0" fill="rgb(73,127,73)"/>
<circle cx="160.48" cy="177.60" r="2.0" fill="rgb(51,143,45)"/>
<circle cx="160.48" cy="182.80" r="2.0" fill="rgb(51,143,45)"/>
<circle cx="160.48" cy="188.00" r="2.0" fill="rgb(51,143,45)"/>
<circle cx="160.48" cy="193.20" r="2.0" fill="rgb(51,143,45)"/>
<circle cx="160.48" cy="198.40" r="2.0" fill="rgb(51,143,45)"/>
<circle cx="165.76" cy="172.40" r="1.8" fill="rgb(58,73,58)"/>
<circle cx="165.76" cy="177.60" r="1.8" fill="rgb(44,72,43)"/>
<circle cx="165.76" cy="182.80" r="1.8" fill="rgb(44,72,43)"/>
<circle cx="165.76" cy="188.00" r="1.8" fill="rgb(44,72,43)"/>
<circle cx="165.76" cy="193.20" r="1.8" fill="rgb(44,72,43)"/>
<circle cx="165.76" cy="198.40" r="1.8" fill="rgb(44,72,43)"/>
<circle cx="171.04" cy="172.40" r="1.8" fill="rgb(62,85,62)"/>
<circle cx="171.04" cy="177.60" r="1.8" fill="rgb(46,88,43)"/>
<circle cx="171.04" cy="182.80" r="1.8" fill="rgb(46,88,43)"/>
<circle cx="171.04" cy="188.00" r="1.8" fill="rgb(46,88,43)"/>
<circle cx="171.04" cy="193.20" r="1.8" fill="rgb(46,88,43)"/>
<circle cx="171.04" cy="198.40" r="1.8" fill="rgb(46,88,43)"/>
<circle cx="186.60" cy="172.40" r="1.8" fill="rgb(62,85,62)"/>
<circle cx="186.60" cy="177.60" r="1.8" fill="rgb(46,88,43)"/>
<circle cx="186.60" cy="182.80" r="1.8" fill="rgb(46,88,43)"/>
<circle cx="186.60" cy="188.00" r="1.8" fill="rgb(46,88,43)"/>
<circle cx="186.60" cy="193.20" r="1.8" fill="rgb(46,88,43)"/>
<circle cx="186.60" cy="198.40" r="1.8" fill="rgb(46,88,43)"/>
<circle cx="191.88" cy="172.40" r="1.8" fill="rgb(68,107,68)"/>
<circle cx="191.88" cy="177.60" r="1.8" fill="rgb(49,117,44)"/>
<circle cx="191.88" cy="182.80" r="1.8" fill="rgb(49,117,44)"/>
<circle cx="191.88" cy="188.00" r="1.8" fill="rgb(49,117,44)"/>
<circle cx="191.88" cy="193.20" r="1.8" fill="rgb(49,117,44)"/>
<circle cx="191.88" cy="198.40" r="1.8" fill="rgb(49,117,44)"/>
<circle cx="218.10" cy="172.40" r="2.0" fill="rgb(78,145,78)"/>
<circle cx="218.10" cy="177.60" r="2.0" fill="rgb(54,166,46)"/>
<circle cx="218.10" cy="182.80" r="2.0" fill="rgb(54,166,46)"/>
<circle cx="218.10" cy="188.00" r="2.0" fill="rgb(54,166,46)"/>
<circle cx="218.10" cy="193.20" r="2.0" fill="rgb(54,166,46)"/>
<circle cx="218.10" cy="198.40" r="2.0" fill="rgb(54,166,46)"/>
<circle cx="223.38" cy="172.40" r="2.0" fill="rgb(74,130,74)"/>
<circle cx="223.38" cy="177.60" r="2.0" fill="rgb(52,147,45)"/>
<circle cx="223.38" cy="182.80" r="2.0" fill="rgb(52,147,45)"/>
<circle cx="223.38" cy="188.00" r="2.0" fill="rgb(52,147,45)"/>
<circle cx="223.38" cy="193.20" r="2.0" fill="rgb(52,147,45)"/>
<circle cx="223.38" cy="198.40" r="2.0" fill="rgb(52,147,45)"/>
<circle cx="228.66" cy="172.40" r="1.8" fill="rgb(54,58,54)"/>
<circle cx="228.66" cy="177.60" r="1.8" fill="rgb(42,53,42)"/>
<circle cx="228.66" cy="182.80" r="1.8" fill="rgb(42,53,42)"/>
<circle cx="228.66" cy="188.00" r="1.8" fill="rgb(42,53,42)"/>
<circle cx="228.66" cy="193.20" r="1.8" fill="rgb(42,53,42)"/>
<circle cx="228.66" cy="198.40" r="1.8" fill="rgb(42,53,42)"/>
<circle cx="233.94" cy="172.40" r="1.8" fill="rgb(56,62,56)"/>
<circle cx="233.94" cy="177.60" r="1.8" fill="rgb(43,59,42)"/>
<circle cx="233.94" cy="182.80" r="1.8" fill="rgb(43,59,42)"/>
<circle cx="233.94" cy="188.00" r="1.8" fill="rgb(43,59,42)"/>
<circle cx="233.94" cy="193.20" r="1.8" fill="rgb(43,59,42)"/>
<circle cx="233.94" cy="198.40" r="1.8" fill="rgb(43,59,42)"/>
<circle cx="28.10" cy="203.80" r="2.0" fill="rgb(56,186,46)"/>
<circle cx="28.10" cy="209.07" r="2.0" fill="rgb(56,186,46)"/>
<circle cx="28.10" cy="214.34" r="2.0" fill="rgb(56,186,46)"/>
<circle cx="28.10" cy="219.61" r="2.0" fill="rgb(56,186,46)"/>
<circle cx="28.10" cy="224.88" r="2.0" fill="rgb(56,186,46)"/>
<circle cx="28.10" cy="230.15" r="2.0" fill="rgb(56,186,46)"/>
<circle cx="33.38" cy="203.80" r="2.0" fill="rgb(60,225,48)"/>
<circle cx="33.38" cy="209.07" r="2.0" fill="rgb(60,225,48)"/>
<circle cx="33.38" cy="214.34" r="2.0" fill="rgb(60,225,48)"/>
<circle cx="33.38" cy="219.61" r="2.0" fill="rgb(60,225,48)"/>
<circle cx="33.38" cy="224.88" r="2.0" fill="rgb(60,225,48)"/>
<circle cx="33.38" cy="230.15" r="2.0" fill="rgb(60,225,48)"/>
<circle cx="38.66" cy="203.80" r="1.8" fill="rgb(48,108,44)"/>
<circle cx="38.66" cy="209.07" r="1.8" fill="rgb(48,108,44)"/>
<circle cx="38.66" cy="214.34" r="1.8" fill="rgb(48,108,44)"/>
<circle cx="38.66" cy="219.61" r="1.8" fill="rgb(48,108,44)"/>
<circle cx="38.66" cy="224.88" r="1.8" fill="rgb(48,108,44)"/>
<circle cx="38.66" cy="230.15" r="1.8" fill="rgb(48,108,44)"/>
<circle cx="43.94" cy="203.80" r="2.0" fill="rgb(59,215,47)"/>
<circle cx="43.94" cy="209.07" r="2.0" fill="rgb(59,215,47)"/>
<circle cx="43.94" cy="214.34" r="2.0" fill="rgb(59,215,47)"/>
<circle cx="43.94" cy="219.61" r="2.0" fill="rgb(59,215,47)"/>
<circle cx="43.94" cy="224.88" r="2.0" fill="rgb(59,215,47)"/>
<circle cx="43.94" cy="230.15" r="2.0" fill="rgb(59,215,47)"/>
<circle cx="54.50" cy="203.80" r="2.0" fill="rgb(56,186,46)"/>
<circle cx="54.50" cy="209.07" r="2.0" fill="rgb(56,186,46)"/>
<circle cx="54.50" cy="214.34" r="2.0" fill="rgb(56,186,46)"/>
<circle cx="54.50" cy="219.61" r="2.0" fill="rgb(56,186,46)"/>
<circle cx="54.50" cy="224.88" r="2.0" fill="rgb(56,186,46)"/>
<circle cx="54.50" cy="230.15" r="2.0" fill="rgb(56,186,46)"/>
<circle cx="60.00" cy="203.80" r="1.8" fill="rgb(48,108,44)"/>
<circle cx="60.00" cy="209.07" r="1.8" fill="rgb(48,108,44)"/>
<circle cx="60.00" cy="214.34" r="1.8" fill="rgb(48,108,44)"/>
<circle cx="60.00" cy="219.61" r="1.8" fill="rgb(48,108,44)"/>
<circle cx="60.00" cy="224.88" r="1.8" fill="rgb(48,108,44)"/>
<circle cx="60.00" cy="230.15" r="1.8" fill="rgb(48,108,44)"/>
<circle cx="65.28" cy="203.80" r="2.0" fill="rgb(60,225,48)"/>
<circle cx="65.28" cy="209.07" r="2.0" fill="rgb(60,225,48)"/>
<circle cx="65.28" cy="214.34" r="2.0" fill="rgb(60,225,48)"/>
<circle cx="65.28" cy="219.61" r="2.0" fill="rgb(60,225,48)"/>
<circle cx="65.28" cy="224.88" r="2.0" fill="rgb(60,225,48)"/>
<circle cx="65.28" cy="230.15" r="2.0" fill="rgb(60,225,48)"/>
<circle cx="70.56" cy="203.80" r="1.8" fill="rgb(10,11,10)"/>
<circle cx="70.56" cy="209.07" r="1.8" fill="rgb(10,11,10)"/>
<circle cx="70.56" cy="214.34" r="1.8" fill="rgb(10,11,10)"/>
<circle cx="70.56" cy="219.61" r="1.8" fill="rgb(10,11,10)"/>
<circle cx="70.56" cy="224.88" r="1.8" fill="rgb(10,11,10)"/>
<circle cx="70.56" cy="230.15" r="1.8" fill="rgb(10,11,10)"/>
<circle cx="75.84" cy="203.80" r="1.8" fill="rgb(47,98,44)"/>
<circle cx="75.84" cy="209.07" r="1.8" fill="rgb(47,98,44)"/>
<circle cx="75.84" cy="214.34" r="1.8" fill="rgb(47,98,44)"/>
<circle cx="75.84" cy="219.61" r="1.8" fill="rgb(47,98,44)"/>
<circle cx="75.84" cy="224.88" r="1.8" fill="rgb(47,98,44)"/>
<circle cx="75.84" cy="230.15" r="1.8" fill="rgb(47,98,44)"/>
<circle cx="91.70" cy="203.80" r="2.0" fill="rgb(54,166,46)"/>
<circle cx="91.70" cy="209.07" r="2.0" fill="rgb(54,166,46)"/>
<circle cx="91.70" cy="214.34" r="2.0" fill="rgb(54,166,46)"/>
<circle cx="91.70" cy="219.61" r="2.0" fill="rgb(54,166,46)"/>
<circle cx="91.70" cy="224.88" r="2.0" fill="rgb(54,166,46)"/>
<circle cx="91.70" cy="230.15" r="2.0" fill="rgb(54,166,46)"/>
<circle cx="96.98" cy="203.80" r="2.0" fill="rgb(60,225,48)"/>
<circle cx="96.98" cy="209.07" r="2.0" fill="rgb(60,225,48)"/>
<circle cx="96.98" cy="214.34" r="2.0" fill="rgb(60,225,48)"/>
<circle cx="96.98" cy="219.61" r="2.0" fill="rgb(60,225,48)"/>
<circle cx="96.98" cy="224.88" r="2.0" fill="rgb(60,225,48)"/>
<circle cx="96.98" cy="230.15" r="2.0" fill="rgb(60,225,48)"/>
<circle cx="102.26" cy="203.80" r="1.8" fill="rgb(48,108,44)"/>
<circle cx="102.26" cy="209.07" r="1.8" fill="rgb(48,108,44)"/>
<circle cx="102.26" cy="214.34" r="1.8" fill="rgb(48,108,44)"/>
<circle cx="102.26" cy="219.61" r="1.8" fill="rgb(48,108,44)"/>
<circle cx="102.26" cy="224.88" r="1.8" fill="rgb(48,108,44)"/>
<circle cx="102.26" cy="230.15" r="1.8" fill="rgb(48,108,44)"/>
<circle cx="107.54" cy="203.80" r="2.0" fill="rgb(53,156,45)"/>
<circle cx="107.54" cy="209.07" r="2.0" fill="rgb(53,156,45)"/>
<circle cx="107.54" cy="214.34" r="2.0" fill="rgb(53,156,45)"/>
<circle cx="107.54" cy="219.61" r="2.0" fill="rgb(53,156,45)"/>
<circle cx="107.54" cy="224.88" r="2.0" fill="rgb(53,156,45)"/>
<circle cx="107.54" cy="230.15" r="2.0" fill="rgb(53,156,45)"/>
<circle cx="118.10" cy="203.80" r="1.8" fill="rgb(10,11,10)"/>
<circle cx="118.10" cy="209.07" r="1.8" fill="rgb(10,11,10)"/>
<circle cx="118.10" cy="214.34" r="1.8" fill="rgb(10,11,10)"/>
<circle cx="118.10" cy="219.61" r="1.8" fill="rgb(10,11,10)"/>
<circle cx="118.10" cy="224.88" r="1.8" fill="rgb(10,11,10)"/>
<circle cx="118.10" cy="230.15" r="1.8" fill="rgb(10,11,10)"/>
<circle cx="123.30" cy="203.80" r="2.0" fill="rgb(60,225,48)"/>
<circle cx="123.30" cy="209.07" r="2.0" fill="rgb(60,225,48)"/>
<circle cx="123.30" cy="214.34" r="2.0" fill="rgb(60,225,48)"/>
<circle cx="123.30" cy="219.61" r="2.0" fill="rgb(60,225,48)"/>
<circle cx="123.30" cy="224.88" r="2.0" fill="rgb(60,225,48)"/>
<circle cx="123.30" cy="230.15" r="2.0" fill="rgb(60,225,48)"/>
<circle cx="128.58" cy="203.80" r="2.0" fill="rgb(60,225,48)"/>
<circle cx="128.58" cy="209.07" r="2.0" fill="rgb(60,225,48)"/>
<circle cx="128.58" cy="214.34" r="2.0" fill="rgb(60,225,48)"/>
<circle cx="128.58" cy="219.61" r="2.0" fill="rgb(60,225,48)"/>
<circle cx="128.58" cy="224.88" r="2.0" fill="rgb(60,225,48)"/>
<circle cx="128.58" cy="230.15" r="2.0" fill="rgb(60,225,48)"/>
<circle cx="133.86" cy="203.80" r="2.0" fill="rgb(55,176,46)"/>
<circle cx="133.86" cy="209.07" r="2.0" fill="rgb(55,176,46)"/>
<circle cx="133.86" cy="214.34" r="2.0" fill="rgb(55,176,46)"/>
<circle cx="133.86" cy="219.61" r="2.0" fill="rgb(55,176,46)"/>
<circle cx="133.86" cy="224.88" r="2.0" fill="rgb(55,176,46)"/>
<circle cx="133.86" cy="230.15" r="2.0" fill="rgb(55,176,46)"/>
<circle cx="139.14" cy="203.80" r="2.0" fill="rgb(59,215,47)"/>
<circle cx="139.14" cy="209.07" r="2.0" fill="rgb(59,215,47)"/>
<circle cx="139.14" cy="214.34" r="2.0" fill="rgb(59,215,47)"/>
<circle cx="139.14" cy="219.61" r="2.0" fill="rgb(59,215,47)"/>
<circle cx="139.14" cy="224.88" r="2.0" fill="rgb(59,215,47)"/>
<circle cx="139.14" cy="230.15" r="2.0" fill="rgb(59,215,47)"/>
<circle cx="144.42" cy="203.80" r="1.8" fill="rgb(43,59,42)"/>
<circle cx="144.42" cy="209.07" r="1.8" fill="rgb(43,59,42)"/>
<circle cx="144.42" cy="214.34" r="1.8" fill="rgb(43,59,42)"/>
<circle cx="144.42" cy="219.61" r="1.8" fill="rgb(43,59,42)"/>
<circle cx="144.42" cy="224.88" r="1.8" fill="rgb(43,59,42)"/>
<circle cx="144.42" cy="230.15" r="1.8" fill="rgb(43,59,42)"/>
<circle cx="149.70" cy="203.80" r="1.8" fill="rgb(45,78,43)"/>
<circle cx="149.70" cy="209.07" r="1.8" fill="rgb(45,78,43)"/>
<circle cx="149.70" cy="214.34" r="1.8" fill="rgb(45,78,43)"/>
<circle cx="149.70" cy="219.61" r="1.8" fill="rgb(45,78,43)"/>
<circle cx="149.70" cy="224.88" r="1.8" fill="rgb(45,78,43)"/>
<circle cx="149.70" cy="230.15" r="1.8" fill="rgb(45,78,43)"/>
<circle cx="155.20" cy="203.80" r="2.0" fill="rgb(59,215,47)"/>
<circle cx="155.20" cy="209.07" r="2.0" fill="rgb(59,215,47)"/>
<circle cx="155.20" cy="214.34" r="2.0" fill="rgb(59,215,47)"/>
<circle cx="155.20" cy="219.61" r="2.0" fill="rgb(59,215,47)"/>
<circle cx="155.20" cy="224.88" r="2.0" fill="rgb(59,215,47)"/>
<circle cx="155.20" cy="230.15" r="2.0" fill="rgb(59,215,47)"/>
<circle cx="160.48" cy="203.80" r="2.0" fill="rgb(59,215,47)"/>
<circle cx="160.48" cy="209.07" r="2.0" fill="rgb(59,215,47)"/>
<circle cx="160.48" cy="214.34" r="2.0" fill="rgb(59,215,47)"/>
<circle cx="160.48" cy="219.61" r="2.0" fill="rgb(59,215,47)"/>
<circle cx="160.48" cy="224.88" r="2.0" fill="rgb(59,215,47)"/>
<circle cx="160.48" cy="230.15" r="2.0" fill="rgb(59,215,47)"/>
<circle cx="165.76" cy="203.80" r="1.8" fill="rgb(43,59,42)"/>
<circle cx="165.76" cy="209.07" r="1.8" fill="rgb(43,59,42)"/>
<circle cx="165.76" cy="214.34" r="1.8" fill="rgb(43,59,42)"/>
<circle cx="165.76" cy="219.61" r="1.8" fill="rgb(43,59,42)"/>
<circle cx="165.76" cy="224.88" r="1.8" fill="rgb(43,59,42)"/>
<circle cx="165.76" cy="230.15" r="1.8" fill="rgb(43,59,42)"/>
<circle cx="171.04" cy="203.80" r="1.8" fill="rgb(44,69,43)"/>
<circle cx="171.04" cy="209.07" r="1.8" fill="rgb(44,69,43)"/>
<circle cx="171.04" cy="214.34" r="1.8" fill="rgb(44,69,43)"/>
<circle cx="171.04" cy="219.61" r="1.8" fill="rgb(44,69,43)"/>
<circle cx="171.04" cy="224.88" r="1.8" fill="rgb(44,69,43)"/>
<circle cx="171.04" cy="230.15" r="1.8" fill="rgb(44,69,43)"/>
<circle cx="186.60" cy="203.80" r="2.0" fill="rgb(59,215,47)"/>
<circle cx="186.60" cy="209.07" r="2.0" fill="rgb(59,215,47)"/>
<circle cx="186.60" cy="214.34" r="2.0" fill="rgb(59,215,47)"/>
<circle cx="186.60" cy="219.61" r="2.0" fill="rgb(59,215,47)"/>
<circle cx="186.60" cy="224.88" r="2.0" fill="rgb(59,215,47)"/>
<circle cx="186.60" cy="230.15" r="2.0" fill="rgb(59,215,47)"/>
<circle cx="191.88" cy="203.80" r="2.0" fill="rgb(59,215,47)"/>
<circle cx="191.88" cy="209.07" r="2.0" fill="rgb(59,215,47)"/>
<circle cx="191.88" cy="214.34" r="2.0" fill="rgb(59,215,47)"/>
<circle cx="191.88" cy="219.61" r="2.0" fill="rgb(59,215,47)"/>
<circle cx="191.88" cy="224.88" r="2.0" fill="rgb(59,215,47)"/>
<circle cx="191.88" cy="230.15" r="2.0" fill="rgb(59,215,47)"/>
<circle cx="197.16" cy="203.80" r="1.8" fill="rgb(48,108,44)"/>
<circle cx="197.16" cy="209.07" r="1.8" fill="rgb(48,108,44)"/>
<circle cx="197.16" cy="214.34" r="1.8" fill="rgb(48,108,44)"/>
<circle cx="197.16" cy="219.61" r="1.8" fill="rgb(48,108,44)"/>
<circle cx="197.16" cy="224.88" r="1.8" fill="rgb(48,108,44)"/>
<circle cx="197.16" cy="230.15" r="1.8" fill="rgb(48,108,44)"/>
<circle cx="202.44" cy="203.80" r="1.8" fill="rgb(48,108,44)"/>
<circle cx="202.44" cy="209.07" r="1.8" fill="rgb(48,108,44)"/>
<circle cx="202.44" cy="214.34" r="1.8" fill="rgb(48,108,44)"/>
<circle cx="202.44" cy="219.61" r="1.8" fill="rgb(48,108,44)"/>
<circle cx="202.44" cy="224.88" r="1.8" fill="rgb(48,108,44)"/>
<circle cx="202.44" cy="230.15" r="1.8" fill="rgb(48,108,44)"/>
</g>
<line x1="57.50" x2="57.50" y1="169.4" y2="232.5" stroke="#7a7a80" stroke-width="0.5"/>
<line x1="89.20" x2="89.20" y1="169.4" y2="232.5" stroke="#7a7a80" stroke-width="0.5"/>
<line x1="120.80" x2="120.80" y1="169.4" y2="232.5" stroke="#7a7a80" stroke-width="0.5"/>
<line x1="152.70" x2="152.70" y1="169.4" y2="232.5" stroke="#7a7a80" stroke-width="0.5"/>
<line x1="184.10" x2="184.10" y1="169.4" y2="232.5" stroke="#7a7a80" stroke-width="0.5"/>
<line x1="215.60" x2="215.60" y1="169.4" y2="232.5" stroke="#7a7a80" stroke-width="0.5"/>
<line x1="24.75" x2="248.2" y1="201.2" y2="201.2" stroke="#9a9a9a" stroke-width="0.7"/>
<line x1="226.8" x2="236.2" y1="203.7" y2="203.7" stroke="#aaa" stroke-width="0.5"/>
<text x="232.1" y="208.7" font-family="Liberation Sans, sans-serif" font-size="4.4" font-weight="bold" fill="#c8c8c8" text-anchor="middle">1mm</text>
<text x="71.85" y="165.2" font-family="Liberation Sans, sans-serif" font-size="4.5" fill="#3cbf3c" text-anchor="middle">ALL-SIL</text>
<text x="104.05" y="165.2" font-family="Liberation Sans, sans-serif" font-size="4.5" fill="#3cbf3c" text-anchor="middle">DND-41</text>
<text x="135.90" y="165.2" font-family="Liberation Sans, sans-serif" font-size="4.5" fill="#e0474c" text-anchor="middle">PF-382</text>
<text x="167.60" y="165.2" font-family="Liberation Sans, sans-serif" font-size="4.5" fill="#e0474c" text-anchor="middle">H9</text>
<text x="199.05" y="165.2" font-family="Liberation Sans, sans-serif" font-size="4.5" fill="#e0474c" text-anchor="middle">PEER</text>
<text x="232.30" y="165.2" font-family="Liberation Sans, sans-serif" font-size="4.5" fill="#e0474c" text-anchor="middle">LOUCY</text>
<text x="74.20" y="239.9" font-family="Liberation Sans, sans-serif" font-size="4.5" fill="#3cbf3c" text-anchor="middle">KOPT-K1</text>
<text x="104.50" y="239.9" font-family="Liberation Sans, sans-serif" font-size="4.5" fill="#3cbf3c" text-anchor="middle">MOLT-4</text>
<text x="136.70" y="239.9" font-family="Liberation Sans, sans-serif" font-size="4.5" fill="#e0474c" text-anchor="middle">CCRF-CEM</text>
<text x="167.30" y="239.9" font-family="Liberation Sans, sans-serif" font-size="4.5" fill="#e0474c" text-anchor="middle">JURKAT</text>
<text x="200.00" y="239.9" font-family="Liberation Sans, sans-serif" font-size="4.5" fill="#e0474c" text-anchor="middle">P12</text>
<text x="232.30" y="239.9" font-family="Liberation Sans, sans-serif" font-size="4.5" fill="#222" text-anchor="middle">EMPTY</text>
<text x="11.9" y="187.7" font-family="Liberation Sans, sans-serif" font-size="4.5" fill="#3cbf3c" text-anchor="middle">HPB-ALL</text>
<text x="13.1" y="218" font-family="Liberation Sans, sans-serif" font-size="4.5" fill="#3cbf3c" text-anchor="middle">TALL-1</text>
<line x1="27.2" x2="34.7" y1="234.4" y2="234.4" stroke="#777" stroke-width="0.5"/>
<text x="30.95" y="240.1" font-family="Liberation Sans, sans-serif" font-size="4.6" fill="#445" text-anchor="middle">1:1</text>
<line x1="37.0" x2="45.0" y1="234.4" y2="234.4" stroke="#777" stroke-width="0.5"/>
<text x="41.00" y="240.1" font-family="Liberation Sans, sans-serif" font-size="4.6" fill="#445" text-anchor="middle">1:3</text>
<line x1="47.4" x2="55.8" y1="234.4" y2="234.4" stroke="#777" stroke-width="0.5"/>
<text x="51.60" y="240.1" font-family="Liberation Sans, sans-serif" font-size="4.6" fill="#445" text-anchor="middle">1:9</text>
<text x="30.7" y="155.6" font-family="Liberation Sans, sans-serif" font-size="4.5" fill="#222" text-anchor="middle">DMSO</text>
<text x="49.4" y="155.6" font-family="Liberation Sans, sans-serif" font-size="4.5" fill="#222" text-anchor="middle">GSI</text>
<line x1="32.1" y1="157" x2="28.5" y2="167" stroke="#444" stroke-width="0.45"/>
<path d="M28.50,167.00 L28.42,165.50 L29.52,165.90Z" fill="#222"/>
<line x1="32.1" y1="157" x2="37.7" y2="166.7" stroke="#c8607a" stroke-width="0.45"/>
<path d="M37.70,166.70 L36.50,165.80 L37.52,165.21Z" fill="#733"/>
<line x1="32.1" y1="157" x2="44.6" y2="166.5" stroke="#7b7" stroke-width="0.45"/>
<path d="M44.60,166.50 L43.15,166.13 L43.85,165.20Z" fill="#464"/>
<line x1="49" y1="156.7" x2="53.5" y2="167" stroke="#444" stroke-width="0.45"/>
<path d="M53.50,167.00 L52.41,165.97 L53.48,165.50Z" fill="#222"/>
<line x1="49" y1="156.7" x2="34.9" y2="167" stroke="#87b" stroke-width="0.45"/>
<path d="M34.90,167.00 L35.67,165.71 L36.36,166.66Z" fill="#435"/>
<line x1="49" y1="156.7" x2="48.2" y2="166.7" stroke="#c98a50" stroke-width="0.45"/>
<path d="M48.20,166.70 L47.73,165.28 L48.89,165.37Z" fill="#643"/>
<text transform="translate(126.1,147.6) rotate(-6)" font-family="Liberation Sans, sans-serif" font-size="7.4" fill="#222" stroke="#222" stroke-width="0.15">p27<tspan font-size="4.3" dy="-2.4" dx="1.6">Kip1</tspan></text>
<line x1="286.3" x2="516.4" y1="164.25" y2="164.25" stroke="#9c9ce8" stroke-width="0.65"/>
<line x1="286.3" x2="516.4" y1="194.25" y2="194.25" stroke="#9c9ce8" stroke-width="0.65"/>
<line x1="286.3" x2="516.4" y1="179.25" y2="179.25" stroke="#8f8f8f" stroke-width="0.8"/>
<line x1="392.2" x2="392.2" y1="133.7" y2="239.25" stroke="#a5a5a5" stroke-width="0.8"/>
<line x1="516.4" x2="516.4" y1="133.7" y2="239.25" stroke="#909090" stroke-width="0.8"/>
<rect x="289.50" y="175.50" width="10.8" height="7.60" rx="2.5" ry="2" fill="#1a1a1a" opacity="0.82"/>
<circle cx="296.78" cy="178.68" r="0.6" fill="#111"/>
<circle cx="289.75" cy="180.54" r="0.6" fill="#111"/>
<circle cx="290.11" cy="177.05" r="0.6" fill="#111"/>
<circle cx="294.99" cy="178.78" r="0.6" fill="#111"/>
<circle cx="290.40" cy="181.81" r="0.6" fill="#111"/>
<circle cx="289.80" cy="179.90" r="0.6" fill="#111"/>
<circle cx="291.94" cy="175.27" r="0.6" fill="#111"/>
<circle cx="291.83" cy="181.37" r="0.6" fill="#111"/>
<circle cx="295.50" cy="175.21" r="0.6" fill="#111"/>
<circle cx="294.12" cy="175.08" r="0.6" fill="#111"/>
<circle cx="299.34" cy="180.04" r="0.6" fill="#111"/>
<circle cx="292.25" cy="179.19" r="0.6" fill="#111"/>
<circle cx="292.53" cy="180.05" r="0.6" fill="#111"/>
<circle cx="298.78" cy="180.25" r="0.6" fill="#111"/>
<circle cx="296.56" cy="180.65" r="0.6" fill="#111"/>
<circle cx="293.64" cy="182.20" r="0.6" fill="#111"/>
<circle cx="289.46" cy="178.47" r="0.6" fill="#111"/>
<circle cx="291.20" cy="179.04" r="0.6" fill="#111"/>
<circle cx="292.64" cy="178.22" r="0.6" fill="#111"/>
<circle cx="295.82" cy="176.98" r="0.6" fill="#111"/>
<circle cx="298.21" cy="177.34" r="0.6" fill="#111"/>
<circle cx="297.38" cy="179.89" r="0.6" fill="#111"/>
<circle cx="295.22" cy="179.42" r="0.6" fill="#111"/>
<circle cx="298.42" cy="182.46" r="0.6" fill="#111"/>
<circle cx="300.94" cy="179.04" r="0.6" fill="#111"/>
<circle cx="290.62" cy="177.32" r="0.6" fill="#111"/>
<circle cx="291.86" cy="175.76" r="0.6" fill="#111"/>
<circle cx="294.78" cy="181.30" r="0.6" fill="#111"/>
<circle cx="297.24" cy="182.79" r="0.6" fill="#111"/>
<circle cx="295.80" cy="180.18" r="0.6" fill="#111"/>
<circle cx="297.20" cy="180.79" r="0.6" fill="#111"/>
<circle cx="296.01" cy="177.82" r="0.6" fill="#111"/>
<circle cx="298.54" cy="176.96" r="0.6" fill="#111"/>
<circle cx="300.23" cy="178.01" r="0.6" fill="#111"/>
<circle cx="291.05" cy="175.77" r="0.6" fill="#111"/>
<circle cx="297.41" cy="179.88" r="0.6" fill="#111"/>
<circle cx="297.11" cy="174.70" r="0.6" fill="#111"/>
<circle cx="293.92" cy="173.21" r="0.6" fill="#111"/>
<circle cx="290.06" cy="176.59" r="0.6" fill="#111"/>
<circle cx="294.49" cy="181.67" r="0.6" fill="#111"/>
<circle cx="289.40" cy="179.89" r="0.6" fill="#111"/>
<circle cx="298.17" cy="180.35" r="0.6" fill="#111"/>
<circle cx="293.59" cy="180.56" r="0.6" fill="#111"/>
<circle cx="299.34" cy="180.63" r="0.6" fill="#111"/>
<circle cx="295.43" cy="181.61" r="0.6" fill="#111"/>
<circle cx="299.50" cy="180.58" r="0.6" fill="#111"/>
<circle cx="292.43" cy="181.34" r="0.6" fill="#111"/>
<circle cx="294.29" cy="174.92" r="0.6" fill="#111"/>
<circle cx="299.19" cy="176.13" r="0.6" fill="#111"/>
<circle cx="292.07" cy="183.20" r="0.6" fill="#111"/>
<circle cx="291.60" cy="180.09" r="0.6" fill="#111"/>
<circle cx="294.72" cy="180.87" r="0.6" fill="#111"/>
<circle cx="289.11" cy="177.70" r="0.6" fill="#111"/>
<circle cx="293.91" cy="178.30" r="0.6" fill="#111"/>
<circle cx="299.89" cy="177.17" r="0.6" fill="#111"/>
<circle cx="296.95" cy="181.59" r="0.6" fill="#111"/>
<circle cx="296.50" cy="175.96" r="0.6" fill="#111"/>
<circle cx="289.30" cy="178.97" r="0.6" fill="#111"/>
<circle cx="298.26" cy="182.70" r="0.6" fill="#111"/>
<circle cx="298.03" cy="176.81" r="0.6" fill="#111"/>
<circle cx="290.42" cy="177.40" r="0.6" fill="#111"/>
<circle cx="296.48" cy="180.83" r="0.6" fill="#111"/>
<circle cx="291.31" cy="180.14" r="0.6" fill="#111"/>
<circle cx="293.20" cy="175.10" r="0.6" fill="#111"/>
<circle cx="290.50" cy="175.83" r="0.6" fill="#111"/>
<circle cx="289.64" cy="175.91" r="0.6" fill="#111"/>
<circle cx="293.19" cy="170.12" r="0.6" fill="#111"/>
<circle cx="293.97" cy="170.07" r="0.6" fill="#111"/>
<circle cx="294.73" cy="190.91" r="0.6" fill="#111"/>
<circle cx="292.72" cy="167.81" r="0.6" fill="#111"/>
<circle cx="297.54" cy="171.55" r="0.6" fill="#111"/>
<circle cx="290.66" cy="172.66" r="0.6" fill="#111"/>
<circle cx="295.16" cy="168.94" r="0.6" fill="#111"/>
<circle cx="295.17" cy="173.72" r="0.6" fill="#111"/>
<circle cx="294.00" cy="193.50" r="0.6" fill="#111"/>
<circle cx="291.53" cy="174.34" r="0.6" fill="#111"/>
<circle cx="293.11" cy="183.57" r="0.6" fill="#111"/>
<circle cx="296.71" cy="168.62" r="0.6" fill="#111"/>
<circle cx="296.09" cy="193.50" r="0.6" fill="#111"/>
<circle cx="292.04" cy="183.66" r="0.6" fill="#111"/>
<circle cx="291.56" cy="170.36" r="0.6" fill="#111"/>
<circle cx="292.31" cy="175.33" r="0.6" fill="#111"/>
<circle cx="298.09" cy="170.64" r="0.6" fill="#111"/>
<circle cx="296.61" cy="193.50" r="0.6" fill="#111"/>
<circle cx="292.09" cy="173.16" r="0.6" fill="#111"/>
<circle cx="296.01" cy="172.77" r="0.6" fill="#111"/>
<circle cx="295.65" cy="167.25" r="0.6" fill="#111"/>
<circle cx="292.32" cy="189.29" r="0.6" fill="#111"/>
<circle cx="296.41" cy="189.56" r="0.6" fill="#111"/>
<circle cx="293.32" cy="167.25" r="0.6" fill="#111"/>
<circle cx="299.77" cy="183.86" r="0.6" fill="#111"/>
<circle cx="294.17" cy="170.72" r="0.6" fill="#111"/>
<circle cx="293.07" cy="167.25" r="0.6" fill="#111"/>
<circle cx="298.54" cy="172.79" r="0.6" fill="#111"/>
<circle cx="299.91" cy="183.72" r="0.6" fill="#111"/>
<circle cx="293.56" cy="185.71" r="0.6" fill="#111"/>
<circle cx="299.18" cy="172.92" r="0.6" fill="#111"/>
<circle cx="295.18" cy="183.51" r="0.6" fill="#111"/>
<circle cx="297.14" cy="188.40" r="0.6" fill="#111"/>
<circle cx="292.56" cy="173.36" r="0.6" fill="#111"/>
<circle cx="292.39" cy="183.74" r="0.6" fill="#111"/>
<circle cx="291.91" cy="171.66" r="0.6" fill="#111"/>
<circle cx="295.55" cy="171.22" r="0.6" fill="#111"/>
<circle cx="295.71" cy="145.50" r="0.6" fill="#111"/>
<circle cx="294.74" cy="165.75" r="0.6" fill="#111"/>
<circle cx="295.74" cy="194.25" r="0.6" fill="#111"/>
<circle cx="294.90" cy="198.15" r="0.6" fill="#111"/>
<circle cx="294.96" cy="202.50" r="0.6" fill="#111"/>
<circle cx="294.95" cy="210.45" r="0.6" fill="#111"/>
<circle cx="293.94" cy="211.95" r="0.6" fill="#111"/>
<circle cx="294.78" cy="214.20" r="0.6" fill="#111"/>
<line x1="289.40" x2="300.40" y1="179.25" y2="179.25" stroke="#000" stroke-width="1.0"/>
<rect x="307.18" y="176.00" width="10.8" height="6.80" rx="2.5" ry="2" fill="#1a1a1a" opacity="0.82"/>
<circle cx="308.76" cy="178.30" r="0.6" fill="#111"/>
<circle cx="310.18" cy="183.34" r="0.6" fill="#111"/>
<circle cx="312.25" cy="179.50" r="0.6" fill="#111"/>
<circle cx="310.40" cy="178.96" r="0.6" fill="#111"/>
<circle cx="312.76" cy="176.63" r="0.6" fill="#111"/>
<circle cx="309.45" cy="175.78" r="0.6" fill="#111"/>
<circle cx="313.29" cy="178.08" r="0.6" fill="#111"/>
<circle cx="316.01" cy="179.42" r="0.6" fill="#111"/>
<circle cx="312.67" cy="181.17" r="0.6" fill="#111"/>
<circle cx="316.00" cy="175.96" r="0.6" fill="#111"/>
<circle cx="311.91" cy="177.99" r="0.6" fill="#111"/>
<circle cx="312.71" cy="177.41" r="0.6" fill="#111"/>
<circle cx="314.77" cy="177.70" r="0.6" fill="#111"/>
<circle cx="312.36" cy="176.80" r="0.6" fill="#111"/>
<circle cx="318.02" cy="180.20" r="0.6" fill="#111"/>
<circle cx="317.77" cy="177.99" r="0.6" fill="#111"/>
<circle cx="310.97" cy="175.13" r="0.6" fill="#111"/>
<circle cx="314.47" cy="174.49" r="0.6" fill="#111"/>
<circle cx="308.58" cy="177.47" r="0.6" fill="#111"/>
<circle cx="307.74" cy="181.12" r="0.6" fill="#111"/>
<circle cx="309.62" cy="181.04" r="0.6" fill="#111"/>
<circle cx="315.21" cy="182.33" r="0.6" fill="#111"/>
<circle cx="317.22" cy="180.85" r="0.6" fill="#111"/>
<circle cx="314.34" cy="181.37" r="0.6" fill="#111"/>
<circle cx="309.23" cy="182.28" r="0.6" fill="#111"/>
<circle cx="310.70" cy="183.67" r="0.6" fill="#111"/>
<circle cx="315.96" cy="175.53" r="0.6" fill="#111"/>
<circle cx="317.90" cy="177.36" r="0.6" fill="#111"/>
<circle cx="316.44" cy="180.92" r="0.6" fill="#111"/>
<circle cx="312.77" cy="180.63" r="0.6" fill="#111"/>
<circle cx="310.82" cy="181.39" r="0.6" fill="#111"/>
<circle cx="315.34" cy="180.04" r="0.6" fill="#111"/>
<circle cx="307.20" cy="181.22" r="0.6" fill="#111"/>
<circle cx="307.50" cy="177.16" r="0.6" fill="#111"/>
<circle cx="310.50" cy="178.61" r="0.6" fill="#111"/>
<circle cx="307.74" cy="177.52" r="0.6" fill="#111"/>
<circle cx="317.98" cy="177.55" r="0.6" fill="#111"/>
<circle cx="307.94" cy="180.80" r="0.6" fill="#111"/>
<circle cx="311.57" cy="173.70" r="0.6" fill="#111"/>
<circle cx="310.79" cy="183.11" r="0.6" fill="#111"/>
<circle cx="308.06" cy="180.34" r="0.6" fill="#111"/>
<circle cx="314.71" cy="175.12" r="0.6" fill="#111"/>
<circle cx="310.05" cy="181.67" r="0.6" fill="#111"/>
<circle cx="313.24" cy="182.32" r="0.6" fill="#111"/>
<circle cx="314.03" cy="183.38" r="0.6" fill="#111"/>
<circle cx="314.92" cy="180.04" r="0.6" fill="#111"/>
<circle cx="311.64" cy="179.80" r="0.6" fill="#111"/>
<circle cx="313.38" cy="184.07" r="0.6" fill="#111"/>
<circle cx="315.73" cy="181.68" r="0.6" fill="#111"/>
<circle cx="309.24" cy="183.15" r="0.6" fill="#111"/>
<circle cx="316.44" cy="181.58" r="0.6" fill="#111"/>
<circle cx="313.17" cy="177.48" r="0.6" fill="#111"/>
<circle cx="317.89" cy="179.97" r="0.6" fill="#111"/>
<circle cx="312.92" cy="179.27" r="0.6" fill="#111"/>
<circle cx="309.44" cy="180.55" r="0.6" fill="#111"/>
<circle cx="307.12" cy="180.41" r="0.6" fill="#111"/>
<circle cx="308.91" cy="180.23" r="0.6" fill="#111"/>
<circle cx="315.79" cy="178.69" r="0.6" fill="#111"/>
<circle cx="310.21" cy="181.14" r="0.6" fill="#111"/>
<circle cx="310.78" cy="178.02" r="0.6" fill="#111"/>
<circle cx="306.51" cy="179.40" r="0.6" fill="#111"/>
<circle cx="315.52" cy="179.40" r="0.6" fill="#111"/>
<circle cx="313.22" cy="179.79" r="0.6" fill="#111"/>
<circle cx="317.89" cy="180.33" r="0.6" fill="#111"/>
<circle cx="308.49" cy="181.72" r="0.6" fill="#111"/>
<circle cx="312.52" cy="180.38" r="0.6" fill="#111"/>
<circle cx="316.17" cy="177.28" r="0.6" fill="#111"/>
<circle cx="314.62" cy="177.35" r="0.6" fill="#111"/>
<circle cx="318.11" cy="181.03" r="0.6" fill="#111"/>
<circle cx="314.74" cy="177.11" r="0.6" fill="#111"/>
<circle cx="313.70" cy="182.87" r="0.6" fill="#111"/>
<circle cx="307.51" cy="177.72" r="0.6" fill="#111"/>
<circle cx="308.13" cy="180.55" r="0.6" fill="#111"/>
<circle cx="310.47" cy="182.66" r="0.6" fill="#111"/>
<circle cx="308.69" cy="180.95" r="0.6" fill="#111"/>
<circle cx="315.51" cy="183.04" r="0.6" fill="#111"/>
<circle cx="314.40" cy="181.54" r="0.6" fill="#111"/>
<circle cx="309.98" cy="179.07" r="0.6" fill="#111"/>
<circle cx="312.11" cy="181.01" r="0.6" fill="#111"/>
<circle cx="309.78" cy="180.71" r="0.6" fill="#111"/>
<circle cx="317.62" cy="181.40" r="0.6" fill="#111"/>
<circle cx="315.36" cy="167.58" r="0.6" fill="#111"/>
<circle cx="311.06" cy="174.50" r="0.6" fill="#111"/>
<circle cx="312.60" cy="169.33" r="0.6" fill="#111"/>
<circle cx="312.63" cy="175.91" r="0.6" fill="#111"/>
<circle cx="311.77" cy="170.67" r="0.6" fill="#111"/>
<circle cx="307.22" cy="175.79" r="0.6" fill="#111"/>
<circle cx="312.89" cy="184.19" r="0.6" fill="#111"/>
<circle cx="313.92" cy="187.18" r="0.6" fill="#111"/>
<circle cx="310.90" cy="173.01" r="0.6" fill="#111"/>
<circle cx="310.99" cy="193.50" r="0.6" fill="#111"/>
<circle cx="316.11" cy="174.38" r="0.6" fill="#111"/>
<circle cx="313.25" cy="192.11" r="0.6" fill="#111"/>
<circle cx="312.83" cy="174.70" r="0.6" fill="#111"/>
<circle cx="314.10" cy="193.50" r="0.6" fill="#111"/>
<circle cx="316.03" cy="186.80" r="0.6" fill="#111"/>
<circle cx="313.46" cy="193.50" r="0.6" fill="#111"/>
<circle cx="311.02" cy="175.74" r="0.6" fill="#111"/>
<circle cx="316.09" cy="174.27" r="0.6" fill="#111"/>
<circle cx="313.61" cy="191.41" r="0.6" fill="#111"/>
<circle cx="307.93" cy="172.54" r="0.6" fill="#111"/>
<circle cx="312.91" cy="185.86" r="0.6" fill="#111"/>
<circle cx="310.56" cy="193.26" r="0.6" fill="#111"/>
<circle cx="309.98" cy="175.52" r="0.6" fill="#111"/>
<circle cx="310.17" cy="187.68" r="0.6" fill="#111"/>
<circle cx="311.32" cy="174.77" r="0.6" fill="#111"/>
<circle cx="313.64" cy="167.25" r="0.6" fill="#111"/>
<circle cx="308.01" cy="183.55" r="0.6" fill="#111"/>
<circle cx="311.16" cy="167.25" r="0.6" fill="#111"/>
<circle cx="307.13" cy="182.80" r="0.6" fill="#111"/>
<circle cx="310.79" cy="170.20" r="0.6" fill="#111"/>
<circle cx="310.83" cy="187.43" r="0.6" fill="#111"/>
<circle cx="312.39" cy="191.69" r="0.6" fill="#111"/>
<circle cx="309.74" cy="185.86" r="0.6" fill="#111"/>
<circle cx="317.36" cy="183.26" r="0.6" fill="#111"/>
<circle cx="315.66" cy="189.99" r="0.6" fill="#111"/>
<circle cx="310.06" cy="175.13" r="0.6" fill="#111"/>
<circle cx="313.31" cy="171.88" r="0.6" fill="#111"/>
<circle cx="312.72" cy="167.25" r="0.6" fill="#111"/>
<circle cx="312.66" cy="185.99" r="0.6" fill="#111"/>
<circle cx="314.78" cy="183.60" r="0.6" fill="#111"/>
<circle cx="307.61" cy="174.27" r="0.6" fill="#111"/>
<circle cx="312.53" cy="167.25" r="0.6" fill="#111"/>
<circle cx="311.34" cy="170.50" r="0.6" fill="#111"/>
<circle cx="316.12" cy="174.21" r="0.6" fill="#111"/>
<circle cx="310.86" cy="193.50" r="0.6" fill="#111"/>
<circle cx="314.97" cy="182.67" r="0.6" fill="#111"/>
<circle cx="311.66" cy="171.40" r="0.6" fill="#111"/>
<circle cx="313.43" cy="185.79" r="0.6" fill="#111"/>
<circle cx="308.71" cy="171.38" r="0.6" fill="#111"/>
<circle cx="315.24" cy="170.47" r="0.6" fill="#111"/>
<circle cx="310.40" cy="172.44" r="0.6" fill="#111"/>
<circle cx="311.18" cy="193.50" r="0.6" fill="#111"/>
<circle cx="313.99" cy="193.50" r="0.6" fill="#111"/>
<circle cx="314.45" cy="193.50" r="0.6" fill="#111"/>
<circle cx="309.76" cy="190.49" r="0.6" fill="#111"/>
<circle cx="312.11" cy="185.65" r="0.6" fill="#111"/>
<circle cx="307.52" cy="175.79" r="0.6" fill="#111"/>
<circle cx="310.65" cy="192.26" r="0.6" fill="#111"/>
<circle cx="312.52" cy="135.00" r="0.6" fill="#111"/>
<circle cx="312.27" cy="164.25" r="0.6" fill="#111"/>
<circle cx="312.18" cy="194.25" r="0.6" fill="#111"/>
<circle cx="313.06" cy="200.25" r="0.6" fill="#111"/>
<circle cx="313.53" cy="202.50" r="0.6" fill="#111"/>
<circle cx="312.10" cy="210.75" r="0.6" fill="#111"/>
<circle cx="312.89" cy="214.95" r="0.6" fill="#111"/>
<circle cx="312.18" cy="221.70" r="0.6" fill="#111"/>
<line x1="307.08" x2="318.08" y1="179.25" y2="179.25" stroke="#000" stroke-width="1.0"/>
<rect x="324.86" y="175.50" width="10.8" height="8.10" rx="2.5" ry="2" fill="#1a1a1a" opacity="0.82"/>
<circle cx="326.66" cy="177.15" r="0.6" fill="#111"/>
<circle cx="326.09" cy="178.65" r="0.6" fill="#111"/>
<circle cx="330.23" cy="181.00" r="0.6" fill="#111"/>
<circle cx="328.56" cy="184.92" r="0.6" fill="#111"/>
<circle cx="330.07" cy="186.70" r="0.6" fill="#111"/>
<circle cx="327.74" cy="174.77" r="0.6" fill="#111"/>
<circle cx="328.28" cy="179.94" r="0.6" fill="#111"/>
<circle cx="325.26" cy="180.59" r="0.6" fill="#111"/>
<circle cx="331.14" cy="179.68" r="0.6" fill="#111"/>
<circle cx="334.66" cy="181.52" r="0.6" fill="#111"/>
<circle cx="329.17" cy="179.54" r="0.6" fill="#111"/>
<circle cx="330.51" cy="176.91" r="0.6" fill="#111"/>
<circle cx="325.13" cy="177.89" r="0.6" fill="#111"/>
<circle cx="327.65" cy="181.17" r="0.6" fill="#111"/>
<circle cx="330.30" cy="180.85" r="0.6" fill="#111"/>
<circle cx="331.89" cy="179.28" r="0.6" fill="#111"/>
<circle cx="327.48" cy="180.71" r="0.6" fill="#111"/>
<circle cx="327.24" cy="178.20" r="0.6" fill="#111"/>
<circle cx="335.26" cy="177.30" r="0.6" fill="#111"/>
<circle cx="334.35" cy="181.19" r="0.6" fill="#111"/>
<circle cx="324.39" cy="179.92" r="0.6" fill="#111"/>
<circle cx="332.89" cy="179.17" r="0.6" fill="#111"/>
<circle cx="331.21" cy="181.85" r="0.6" fill="#111"/>
<circle cx="324.46" cy="177.79" r="0.6" fill="#111"/>
<circle cx="332.67" cy="175.01" r="0.6" fill="#111"/>
<circle cx="333.40" cy="183.23" r="0.6" fill="#111"/>
<circle cx="325.79" cy="181.45" r="0.6" fill="#111"/>
<circle cx="325.92" cy="179.21" r="0.6" fill="#111"/>
<circle cx="334.05" cy="175.72" r="0.6" fill="#111"/>
<circle cx="333.03" cy="179.01" r="0.6" fill="#111"/>
<circle cx="329.81" cy="176.93" r="0.6" fill="#111"/>
<circle cx="330.73" cy="176.07" r="0.6" fill="#111"/>
<circle cx="328.19" cy="183.88" r="0.6" fill="#111"/>
<circle cx="335.38" cy="180.65" r="0.6" fill="#111"/>
<circle cx="325.79" cy="178.22" r="0.6" fill="#111"/>
<circle cx="327.37" cy="177.83" r="0.6" fill="#111"/>
<circle cx="326.17" cy="176.95" r="0.6" fill="#111"/>
<circle cx="325.99" cy="176.56" r="0.6" fill="#111"/>
<circle cx="329.21" cy="176.21" r="0.6" fill="#111"/>
<circle cx="326.80" cy="179.03" r="0.6" fill="#111"/>
<circle cx="327.77" cy="179.25" r="0.6" fill="#111"/>
<circle cx="329.77" cy="179.33" r="0.6" fill="#111"/>
<circle cx="333.73" cy="183.11" r="0.6" fill="#111"/>
<circle cx="329.96" cy="178.61" r="0.6" fill="#111"/>
<circle cx="336.06" cy="179.73" r="0.6" fill="#111"/>
<circle cx="332.60" cy="181.47" r="0.6" fill="#111"/>
<circle cx="330.24" cy="179.36" r="0.6" fill="#111"/>
<circle cx="332.44" cy="180.05" r="0.6" fill="#111"/>
<circle cx="332.21" cy="177.82" r="0.6" fill="#111"/>
<circle cx="327.71" cy="184.50" r="0.6" fill="#111"/>
<circle cx="331.52" cy="171.29" r="0.6" fill="#111"/>
<circle cx="333.27" cy="174.94" r="0.6" fill="#111"/>
<circle cx="335.22" cy="175.53" r="0.6" fill="#111"/>
<circle cx="332.06" cy="169.74" r="0.6" fill="#111"/>
<circle cx="328.10" cy="183.00" r="0.6" fill="#111"/>
<circle cx="330.23" cy="186.24" r="0.6" fill="#111"/>
<circle cx="331.88" cy="174.52" r="0.6" fill="#111"/>
<circle cx="327.43" cy="186.00" r="0.6" fill="#111"/>
<circle cx="327.20" cy="185.40" r="0.6" fill="#111"/>
<circle cx="326.27" cy="173.70" r="0.6" fill="#111"/>
<circle cx="331.18" cy="191.34" r="0.6" fill="#111"/>
<circle cx="332.45" cy="189.52" r="0.6" fill="#111"/>
<circle cx="332.63" cy="184.16" r="0.6" fill="#111"/>
<circle cx="331.65" cy="173.00" r="0.6" fill="#111"/>
<circle cx="327.68" cy="172.28" r="0.6" fill="#111"/>
<circle cx="328.51" cy="172.44" r="0.6" fill="#111"/>
<circle cx="332.36" cy="168.15" r="0.6" fill="#111"/>
<circle cx="329.69" cy="167.25" r="0.6" fill="#111"/>
<circle cx="326.97" cy="171.71" r="0.6" fill="#111"/>
<circle cx="329.75" cy="167.25" r="0.6" fill="#111"/>
<circle cx="333.60" cy="172.94" r="0.6" fill="#111"/>
<circle cx="329.40" cy="174.28" r="0.6" fill="#111"/>
<circle cx="326.51" cy="172.56" r="0.6" fill="#111"/>
<circle cx="332.03" cy="167.66" r="0.6" fill="#111"/>
<circle cx="328.56" cy="182.93" r="0.6" fill="#111"/>
<circle cx="332.09" cy="167.25" r="0.6" fill="#111"/>
<circle cx="328.72" cy="185.59" r="0.6" fill="#111"/>
<circle cx="329.81" cy="158.70" r="0.6" fill="#111"/>
<circle cx="329.27" cy="168.75" r="0.6" fill="#111"/>
<circle cx="330.77" cy="192.00" r="0.6" fill="#111"/>
<circle cx="331.09" cy="198.75" r="0.6" fill="#111"/>
<line x1="324.76" x2="335.76" y1="179.25" y2="179.25" stroke="#000" stroke-width="1.0"/>
<rect x="342.54" y="176.00" width="10.8" height="7.60" rx="2.5" ry="2" fill="#1a1a1a" opacity="0.82"/>
<circle cx="349.55" cy="178.53" r="0.6" fill="#111"/>
<circle cx="344.61" cy="180.30" r="0.6" fill="#111"/>
<circle cx="347.63" cy="179.61" r="0.6" fill="#111"/>
<circle cx="347.38" cy="185.58" r="0.6" fill="#111"/>
<circle cx="345.04" cy="178.19" r="0.6" fill="#111"/>
<circle cx="352.39" cy="177.25" r="0.6" fill="#111"/>
<circle cx="344.11" cy="181.00" r="0.6" fill="#111"/>
<circle cx="351.81" cy="181.09" r="0.6" fill="#111"/>
<circle cx="350.22" cy="176.05" r="0.6" fill="#111"/>
<circle cx="345.85" cy="178.11" r="0.6" fill="#111"/>
<circle cx="346.29" cy="178.45" r="0.6" fill="#111"/>
<circle cx="344.13" cy="180.00" r="0.6" fill="#111"/>
<circle cx="351.04" cy="178.84" r="0.6" fill="#111"/>
<circle cx="342.07" cy="179.81" r="0.6" fill="#111"/>
<circle cx="348.59" cy="180.69" r="0.6" fill="#111"/>
<circle cx="351.58" cy="176.69" r="0.6" fill="#111"/>
<circle cx="350.20" cy="185.83" r="0.6" fill="#111"/>
<circle cx="342.86" cy="179.71" r="0.6" fill="#111"/>
<circle cx="347.92" cy="180.81" r="0.6" fill="#111"/>
<circle cx="344.63" cy="179.14" r="0.6" fill="#111"/>
<circle cx="347.08" cy="177.25" r="0.6" fill="#111"/>
<circle cx="350.48" cy="177.16" r="0.6" fill="#111"/>
<circle cx="351.58" cy="177.31" r="0.6" fill="#111"/>
<circle cx="352.18" cy="179.17" r="0.6" fill="#111"/>
<circle cx="345.43" cy="178.74" r="0.6" fill="#111"/>
<circle cx="350.56" cy="177.67" r="0.6" fill="#111"/>
<circle cx="344.25" cy="178.85" r="0.6" fill="#111"/>
<circle cx="343.57" cy="179.83" r="0.6" fill="#111"/>
<circle cx="352.33" cy="181.62" r="0.6" fill="#111"/>
<circle cx="346.76" cy="177.90" r="0.6" fill="#111"/>
<circle cx="353.96" cy="178.78" r="0.6" fill="#111"/>
<circle cx="351.49" cy="178.05" r="0.6" fill="#111"/>
<circle cx="349.87" cy="179.72" r="0.6" fill="#111"/>
<circle cx="347.63" cy="180.92" r="0.6" fill="#111"/>
<circle cx="351.96" cy="179.74" r="0.6" fill="#111"/>
<circle cx="343.41" cy="182.69" r="0.6" fill="#111"/>
<circle cx="346.50" cy="175.28" r="0.6" fill="#111"/>
<circle cx="353.67" cy="180.95" r="0.6" fill="#111"/>
<circle cx="348.95" cy="180.87" r="0.6" fill="#111"/>
<circle cx="351.98" cy="181.91" r="0.6" fill="#111"/>
<circle cx="347.32" cy="178.81" r="0.6" fill="#111"/>
<circle cx="353.54" cy="179.54" r="0.6" fill="#111"/>
<circle cx="344.95" cy="183.99" r="0.6" fill="#111"/>
<circle cx="345.10" cy="177.03" r="0.6" fill="#111"/>
<circle cx="346.46" cy="177.89" r="0.6" fill="#111"/>
<circle cx="344.95" cy="180.83" r="0.6" fill="#111"/>
<circle cx="349.13" cy="181.07" r="0.6" fill="#111"/>
<circle cx="341.95" cy="178.85" r="0.6" fill="#111"/>
<circle cx="345.88" cy="178.47" r="0.6" fill="#111"/>
<circle cx="345.61" cy="179.13" r="0.6" fill="#111"/>
<circle cx="344.41" cy="178.41" r="0.6" fill="#111"/>
<circle cx="342.56" cy="180.66" r="0.6" fill="#111"/>
<circle cx="344.04" cy="176.87" r="0.6" fill="#111"/>
<circle cx="349.41" cy="177.38" r="0.6" fill="#111"/>
<circle cx="343.30" cy="181.67" r="0.6" fill="#111"/>
<circle cx="346.92" cy="181.73" r="0.6" fill="#111"/>
<circle cx="345.92" cy="183.00" r="0.6" fill="#111"/>
<circle cx="345.87" cy="177.68" r="0.6" fill="#111"/>
<circle cx="347.40" cy="193.50" r="0.6" fill="#111"/>
<circle cx="347.39" cy="192.93" r="0.6" fill="#111"/>
<circle cx="349.48" cy="169.94" r="0.6" fill="#111"/>
<circle cx="347.10" cy="182.74" r="0.6" fill="#111"/>
<circle cx="346.93" cy="183.17" r="0.6" fill="#111"/>
<circle cx="344.26" cy="171.01" r="0.6" fill="#111"/>
<circle cx="349.06" cy="187.03" r="0.6" fill="#111"/>
<circle cx="346.68" cy="184.74" r="0.6" fill="#111"/>
<circle cx="344.30" cy="183.94" r="0.6" fill="#111"/>
<circle cx="343.95" cy="184.06" r="0.6" fill="#111"/>
<circle cx="349.75" cy="168.83" r="0.6" fill="#111"/>
<circle cx="351.67" cy="172.06" r="0.6" fill="#111"/>
<circle cx="347.76" cy="183.37" r="0.6" fill="#111"/>
<circle cx="349.92" cy="167.25" r="0.6" fill="#111"/>
<circle cx="350.51" cy="187.06" r="0.6" fill="#111"/>
<circle cx="347.27" cy="170.32" r="0.6" fill="#111"/>
<circle cx="349.52" cy="191.45" r="0.6" fill="#111"/>
<circle cx="348.12" cy="174.23" r="0.6" fill="#111"/>
<circle cx="344.75" cy="172.11" r="0.6" fill="#111"/>
<circle cx="342.89" cy="182.73" r="0.6" fill="#111"/>
<circle cx="349.07" cy="192.19" r="0.6" fill="#111"/>
<circle cx="348.43" cy="167.25" r="0.6" fill="#111"/>
<circle cx="349.13" cy="185.27" r="0.6" fill="#111"/>
<circle cx="347.22" cy="184.72" r="0.6" fill="#111"/>
<circle cx="347.58" cy="188.43" r="0.6" fill="#111"/>
<circle cx="347.83" cy="183.76" r="0.6" fill="#111"/>
<circle cx="350.80" cy="175.46" r="0.6" fill="#111"/>
<circle cx="347.66" cy="174.71" r="0.6" fill="#111"/>
<circle cx="345.57" cy="169.42" r="0.6" fill="#111"/>
<circle cx="348.04" cy="173.56" r="0.6" fill="#111"/>
<circle cx="349.37" cy="174.84" r="0.6" fill="#111"/>
<circle cx="348.00" cy="191.03" r="0.6" fill="#111"/>
<circle cx="347.97" cy="171.13" r="0.6" fill="#111"/>
<circle cx="349.69" cy="167.25" r="0.6" fill="#111"/>
<circle cx="348.89" cy="192.78" r="0.6" fill="#111"/>
<circle cx="347.86" cy="184.11" r="0.6" fill="#111"/>
<circle cx="351.53" cy="186.16" r="0.6" fill="#111"/>
<circle cx="344.79" cy="187.93" r="0.6" fill="#111"/>
<circle cx="347.64" cy="163.50" r="0.6" fill="#111"/>
<circle cx="348.45" cy="167.25" r="0.6" fill="#111"/>
<circle cx="347.26" cy="170.25" r="0.6" fill="#111"/>
<circle cx="348.73" cy="194.25" r="0.6" fill="#111"/>
<circle cx="347.49" cy="197.25" r="0.6" fill="#111"/>
<circle cx="348.57" cy="222.75" r="0.6" fill="#111"/>
<circle cx="347.23" cy="231.00" r="0.6" fill="#111"/>
<line x1="342.44" x2="353.44" y1="179.25" y2="179.25" stroke="#000" stroke-width="1.0"/>
<rect x="360.22" y="176.00" width="10.8" height="7.10" rx="2.5" ry="2" fill="#1a1a1a" opacity="0.82"/>
<circle cx="365.64" cy="183.01" r="0.6" fill="#111"/>
<circle cx="362.81" cy="180.92" r="0.6" fill="#111"/>
<circle cx="365.69" cy="178.80" r="0.6" fill="#111"/>
<circle cx="361.62" cy="179.29" r="0.6" fill="#111"/>
<circle cx="361.40" cy="180.12" r="0.6" fill="#111"/>
<circle cx="369.20" cy="182.72" r="0.6" fill="#111"/>
<circle cx="361.69" cy="178.21" r="0.6" fill="#111"/>
<circle cx="366.01" cy="179.80" r="0.6" fill="#111"/>
<circle cx="367.27" cy="178.45" r="0.6" fill="#111"/>
<circle cx="366.14" cy="176.60" r="0.6" fill="#111"/>
<circle cx="366.28" cy="183.13" r="0.6" fill="#111"/>
<circle cx="371.70" cy="180.34" r="0.6" fill="#111"/>
<circle cx="367.23" cy="178.83" r="0.6" fill="#111"/>
<circle cx="363.51" cy="176.34" r="0.6" fill="#111"/>
<circle cx="370.63" cy="182.07" r="0.6" fill="#111"/>
<circle cx="368.57" cy="177.64" r="0.6" fill="#111"/>
<circle cx="364.92" cy="178.54" r="0.6" fill="#111"/>
<circle cx="360.44" cy="181.22" r="0.6" fill="#111"/>
<circle cx="368.39" cy="182.92" r="0.6" fill="#111"/>
<circle cx="371.72" cy="179.48" r="0.6" fill="#111"/>
<circle cx="366.38" cy="182.81" r="0.6" fill="#111"/>
<circle cx="359.56" cy="178.53" r="0.6" fill="#111"/>
<circle cx="360.28" cy="177.86" r="0.6" fill="#111"/>
<circle cx="364.86" cy="181.42" r="0.6" fill="#111"/>
<circle cx="365.75" cy="182.10" r="0.6" fill="#111"/>
<circle cx="362.29" cy="180.51" r="0.6" fill="#111"/>
<circle cx="367.51" cy="178.81" r="0.6" fill="#111"/>
<circle cx="363.79" cy="179.71" r="0.6" fill="#111"/>
<circle cx="360.66" cy="179.57" r="0.6" fill="#111"/>
<circle cx="366.64" cy="178.54" r="0.6" fill="#111"/>
<circle cx="366.68" cy="180.82" r="0.6" fill="#111"/>
<circle cx="365.31" cy="180.46" r="0.6" fill="#111"/>
<circle cx="362.24" cy="182.61" r="0.6" fill="#111"/>
<circle cx="361.55" cy="181.12" r="0.6" fill="#111"/>
<circle cx="360.60" cy="178.89" r="0.6" fill="#111"/>
<circle cx="368.27" cy="176.56" r="0.6" fill="#111"/>
<circle cx="364.80" cy="176.02" r="0.6" fill="#111"/>
<circle cx="367.45" cy="179.52" r="0.6" fill="#111"/>
<circle cx="366.40" cy="179.90" r="0.6" fill="#111"/>
<circle cx="364.99" cy="177.61" r="0.6" fill="#111"/>
<circle cx="369.98" cy="182.21" r="0.6" fill="#111"/>
<circle cx="370.70" cy="179.37" r="0.6" fill="#111"/>
<circle cx="360.41" cy="177.83" r="0.6" fill="#111"/>
<circle cx="362.84" cy="177.27" r="0.6" fill="#111"/>
<circle cx="360.09" cy="179.09" r="0.6" fill="#111"/>
<circle cx="366.26" cy="179.61" r="0.6" fill="#111"/>
<circle cx="371.15" cy="179.20" r="0.6" fill="#111"/>
<circle cx="366.94" cy="180.50" r="0.6" fill="#111"/>
<circle cx="365.70" cy="180.74" r="0.6" fill="#111"/>
<circle cx="362.36" cy="176.92" r="0.6" fill="#111"/>
<circle cx="363.92" cy="176.30" r="0.6" fill="#111"/>
<circle cx="370.52" cy="179.33" r="0.6" fill="#111"/>
<circle cx="369.13" cy="180.23" r="0.6" fill="#111"/>
<circle cx="369.96" cy="179.49" r="0.6" fill="#111"/>
<circle cx="365.25" cy="183.21" r="0.6" fill="#111"/>
<circle cx="361.31" cy="175.61" r="0.6" fill="#111"/>
<circle cx="362.70" cy="169.37" r="0.6" fill="#111"/>
<circle cx="368.19" cy="187.66" r="0.6" fill="#111"/>
<circle cx="364.45" cy="191.13" r="0.6" fill="#111"/>
<circle cx="365.78" cy="188.61" r="0.6" fill="#111"/>
<circle cx="367.01" cy="173.82" r="0.6" fill="#111"/>
<circle cx="361.62" cy="186.65" r="0.6" fill="#111"/>
<circle cx="362.83" cy="175.04" r="0.6" fill="#111"/>
<circle cx="363.75" cy="183.11" r="0.6" fill="#111"/>
<circle cx="364.98" cy="193.50" r="0.6" fill="#111"/>
<circle cx="367.66" cy="183.44" r="0.6" fill="#111"/>
<circle cx="367.42" cy="193.50" r="0.6" fill="#111"/>
<circle cx="366.96" cy="193.50" r="0.6" fill="#111"/>
<circle cx="367.80" cy="173.76" r="0.6" fill="#111"/>
<circle cx="366.58" cy="171.30" r="0.6" fill="#111"/>
<circle cx="369.61" cy="173.75" r="0.6" fill="#111"/>
<circle cx="370.18" cy="175.09" r="0.6" fill="#111"/>
<circle cx="361.87" cy="174.84" r="0.6" fill="#111"/>
<circle cx="366.97" cy="184.27" r="0.6" fill="#111"/>
<circle cx="368.21" cy="182.86" r="0.6" fill="#111"/>
<circle cx="367.46" cy="168.61" r="0.6" fill="#111"/>
<circle cx="369.12" cy="185.77" r="0.6" fill="#111"/>
<circle cx="367.29" cy="193.50" r="0.6" fill="#111"/>
<circle cx="363.37" cy="171.09" r="0.6" fill="#111"/>
<circle cx="368.86" cy="183.76" r="0.6" fill="#111"/>
<circle cx="369.04" cy="183.58" r="0.6" fill="#111"/>
<circle cx="362.06" cy="172.60" r="0.6" fill="#111"/>
<circle cx="363.08" cy="186.18" r="0.6" fill="#111"/>
<circle cx="363.34" cy="173.30" r="0.6" fill="#111"/>
<circle cx="367.13" cy="170.24" r="0.6" fill="#111"/>
<circle cx="365.65" cy="186.11" r="0.6" fill="#111"/>
<circle cx="366.62" cy="186.44" r="0.6" fill="#111"/>
<circle cx="367.45" cy="169.87" r="0.6" fill="#111"/>
<circle cx="367.75" cy="174.75" r="0.6" fill="#111"/>
<circle cx="365.70" cy="157.50" r="0.6" fill="#111"/>
<circle cx="365.05" cy="168.75" r="0.6" fill="#111"/>
<circle cx="366.34" cy="192.75" r="0.6" fill="#111"/>
<circle cx="364.80" cy="203.25" r="0.6" fill="#111"/>
<circle cx="366.26" cy="209.25" r="0.6" fill="#111"/>
<circle cx="364.96" cy="211.50" r="0.6" fill="#111"/>
<line x1="360.12" x2="371.12" y1="179.25" y2="179.25" stroke="#000" stroke-width="1.0"/>
<rect x="377.90" y="176.60" width="10.8" height="5.90" rx="2.5" ry="2" fill="#1a1a1a" opacity="0.82"/>
<circle cx="386.35" cy="180.86" r="0.6" fill="#111"/>
<circle cx="389.32" cy="179.56" r="0.6" fill="#111"/>
<circle cx="383.22" cy="181.82" r="0.6" fill="#111"/>
<circle cx="387.04" cy="179.61" r="0.6" fill="#111"/>
<circle cx="381.45" cy="180.46" r="0.6" fill="#111"/>
<circle cx="386.73" cy="181.64" r="0.6" fill="#111"/>
<circle cx="380.59" cy="179.24" r="0.6" fill="#111"/>
<circle cx="381.89" cy="184.23" r="0.6" fill="#111"/>
<circle cx="378.50" cy="178.83" r="0.6" fill="#111"/>
<circle cx="384.69" cy="177.37" r="0.6" fill="#111"/>
<circle cx="384.96" cy="182.55" r="0.6" fill="#111"/>
<circle cx="386.48" cy="181.22" r="0.6" fill="#111"/>
<circle cx="382.14" cy="178.28" r="0.6" fill="#111"/>
<circle cx="382.07" cy="178.23" r="0.6" fill="#111"/>
<circle cx="388.10" cy="180.19" r="0.6" fill="#111"/>
<circle cx="377.39" cy="179.02" r="0.6" fill="#111"/>
<circle cx="388.32" cy="179.97" r="0.6" fill="#111"/>
<circle cx="383.31" cy="181.02" r="0.6" fill="#111"/>
<circle cx="381.02" cy="176.61" r="0.6" fill="#111"/>
<circle cx="382.95" cy="182.34" r="0.6" fill="#111"/>
<circle cx="385.31" cy="176.34" r="0.6" fill="#111"/>
<circle cx="385.11" cy="178.91" r="0.6" fill="#111"/>
<circle cx="379.15" cy="178.54" r="0.6" fill="#111"/>
<circle cx="387.25" cy="180.96" r="0.6" fill="#111"/>
<circle cx="379.64" cy="177.86" r="0.6" fill="#111"/>
<circle cx="382.75" cy="176.81" r="0.6" fill="#111"/>
<circle cx="378.62" cy="179.93" r="0.6" fill="#111"/>
<circle cx="382.94" cy="177.01" r="0.6" fill="#111"/>
<circle cx="379.62" cy="180.63" r="0.6" fill="#111"/>
<circle cx="380.90" cy="178.60" r="0.6" fill="#111"/>
<circle cx="379.18" cy="178.46" r="0.6" fill="#111"/>
<circle cx="380.86" cy="175.95" r="0.6" fill="#111"/>
<circle cx="383.58" cy="179.58" r="0.6" fill="#111"/>
<circle cx="379.58" cy="181.29" r="0.6" fill="#111"/>
<circle cx="389.19" cy="178.95" r="0.6" fill="#111"/>
<circle cx="386.02" cy="180.67" r="0.6" fill="#111"/>
<circle cx="380.82" cy="183.56" r="0.6" fill="#111"/>
<circle cx="382.32" cy="182.54" r="0.6" fill="#111"/>
<circle cx="385.03" cy="183.01" r="0.6" fill="#111"/>
<circle cx="382.48" cy="179.20" r="0.6" fill="#111"/>
<circle cx="381.34" cy="174.53" r="0.6" fill="#111"/>
<circle cx="381.63" cy="171.92" r="0.6" fill="#111"/>
<circle cx="383.30" cy="186.83" r="0.6" fill="#111"/>
<circle cx="383.14" cy="185.70" r="0.6" fill="#111"/>
<circle cx="384.52" cy="173.38" r="0.6" fill="#111"/>
<circle cx="382.99" cy="185.72" r="0.6" fill="#111"/>
<circle cx="382.41" cy="171.49" r="0.6" fill="#111"/>
<circle cx="385.39" cy="184.79" r="0.6" fill="#111"/>
<circle cx="384.70" cy="183.25" r="0.6" fill="#111"/>
<circle cx="383.15" cy="187.15" r="0.6" fill="#111"/>
<circle cx="382.79" cy="174.32" r="0.6" fill="#111"/>
<circle cx="384.09" cy="186.44" r="0.6" fill="#111"/>
<circle cx="383.01" cy="174.39" r="0.6" fill="#111"/>
<circle cx="382.73" cy="184.21" r="0.6" fill="#111"/>
<circle cx="383.65" cy="171.75" r="0.6" fill="#111"/>
<circle cx="384.16" cy="186.75" r="0.6" fill="#111"/>
<line x1="377.80" x2="388.80" y1="179.25" y2="179.25" stroke="#000" stroke-width="1.0"/>
<rect x="395.58" y="177.40" width="10.8" height="5.40" rx="2.5" ry="2" fill="#1a1a1a" opacity="0.82"/>
<circle cx="404.27" cy="181.18" r="0.6" fill="#111"/>
<circle cx="399.95" cy="182.52" r="0.6" fill="#111"/>
<circle cx="399.15" cy="175.19" r="0.6" fill="#111"/>
<circle cx="401.52" cy="180.41" r="0.6" fill="#111"/>
<circle cx="405.76" cy="181.78" r="0.6" fill="#111"/>
<circle cx="401.15" cy="182.78" r="0.6" fill="#111"/>
<circle cx="401.41" cy="182.01" r="0.6" fill="#111"/>
<circle cx="403.45" cy="181.51" r="0.6" fill="#111"/>
<circle cx="403.91" cy="177.52" r="0.6" fill="#111"/>
<circle cx="401.25" cy="179.90" r="0.6" fill="#111"/>
<circle cx="399.17" cy="176.37" r="0.6" fill="#111"/>
<circle cx="402.72" cy="182.46" r="0.6" fill="#111"/>
<circle cx="397.46" cy="177.70" r="0.6" fill="#111"/>
<circle cx="406.00" cy="182.02" r="0.6" fill="#111"/>
<circle cx="398.16" cy="179.72" r="0.6" fill="#111"/>
<circle cx="399.73" cy="180.59" r="0.6" fill="#111"/>
<circle cx="400.15" cy="181.98" r="0.6" fill="#111"/>
<circle cx="403.47" cy="180.26" r="0.6" fill="#111"/>
<circle cx="397.64" cy="179.25" r="0.6" fill="#111"/>
<circle cx="403.82" cy="181.24" r="0.6" fill="#111"/>
<circle cx="398.15" cy="182.16" r="0.6" fill="#111"/>
<circle cx="404.65" cy="179.28" r="0.6" fill="#111"/>
<circle cx="396.54" cy="179.12" r="0.6" fill="#111"/>
<circle cx="404.35" cy="180.89" r="0.6" fill="#111"/>
<circle cx="400.61" cy="181.04" r="0.6" fill="#111"/>
<circle cx="401.56" cy="177.70" r="0.6" fill="#111"/>
<circle cx="399.18" cy="180.80" r="0.6" fill="#111"/>
<circle cx="401.60" cy="184.72" r="0.6" fill="#111"/>
<circle cx="400.62" cy="181.50" r="0.6" fill="#111"/>
<circle cx="399.37" cy="177.07" r="0.6" fill="#111"/>
<circle cx="405.01" cy="179.20" r="0.6" fill="#111"/>
<circle cx="399.16" cy="179.82" r="0.6" fill="#111"/>
<circle cx="399.48" cy="180.95" r="0.6" fill="#111"/>
<circle cx="398.09" cy="178.95" r="0.6" fill="#111"/>
<circle cx="395.06" cy="179.06" r="0.6" fill="#111"/>
<circle cx="403.73" cy="180.62" r="0.6" fill="#111"/>
<circle cx="398.49" cy="179.83" r="0.6" fill="#111"/>
<circle cx="400.75" cy="181.43" r="0.6" fill="#111"/>
<circle cx="402.49" cy="177.77" r="0.6" fill="#111"/>
<circle cx="399.36" cy="181.22" r="0.6" fill="#111"/>
<circle cx="397.69" cy="183.31" r="0.6" fill="#111"/>
<circle cx="404.62" cy="178.56" r="0.6" fill="#111"/>
<circle cx="397.82" cy="182.74" r="0.6" fill="#111"/>
<circle cx="404.52" cy="178.33" r="0.6" fill="#111"/>
<circle cx="394.84" cy="179.89" r="0.6" fill="#111"/>
<circle cx="406.66" cy="179.87" r="0.6" fill="#111"/>
<circle cx="396.11" cy="179.33" r="0.6" fill="#111"/>
<circle cx="396.78" cy="178.96" r="0.6" fill="#111"/>
<circle cx="399.06" cy="180.42" r="0.6" fill="#111"/>
<circle cx="402.42" cy="168.20" r="0.6" fill="#111"/>
<circle cx="402.05" cy="183.26" r="0.6" fill="#111"/>
<circle cx="402.30" cy="185.19" r="0.6" fill="#111"/>
<circle cx="399.62" cy="188.78" r="0.6" fill="#111"/>
<circle cx="401.15" cy="187.45" r="0.6" fill="#111"/>
<circle cx="401.54" cy="182.80" r="0.6" fill="#111"/>
<circle cx="399.48" cy="171.12" r="0.6" fill="#111"/>
<circle cx="400.75" cy="172.59" r="0.6" fill="#111"/>
<circle cx="400.92" cy="171.92" r="0.6" fill="#111"/>
<circle cx="398.52" cy="188.15" r="0.6" fill="#111"/>
<circle cx="400.65" cy="182.61" r="0.6" fill="#111"/>
<circle cx="400.41" cy="188.70" r="0.6" fill="#111"/>
<circle cx="404.64" cy="173.40" r="0.6" fill="#111"/>
<circle cx="398.67" cy="188.25" r="0.6" fill="#111"/>
<circle cx="402.36" cy="185.47" r="0.6" fill="#111"/>
<circle cx="401.05" cy="186.21" r="0.6" fill="#111"/>
<circle cx="404.50" cy="174.27" r="0.6" fill="#111"/>
<circle cx="400.34" cy="189.55" r="0.6" fill="#111"/>
<circle cx="399.77" cy="184.06" r="0.6" fill="#111"/>
<circle cx="399.49" cy="187.97" r="0.6" fill="#111"/>
<circle cx="400.23" cy="175.07" r="0.6" fill="#111"/>
<circle cx="401.09" cy="166.50" r="0.6" fill="#111"/>
<circle cx="401.63" cy="192.75" r="0.6" fill="#111"/>
<line x1="395.48" x2="406.48" y1="179.25" y2="179.25" stroke="#000" stroke-width="1.0"/>
<rect x="413.26" y="176.00" width="10.8" height="6.80" rx="2.5" ry="2" fill="#1a1a1a" opacity="0.82"/>
<circle cx="417.50" cy="178.30" r="0.6" fill="#111"/>
<circle cx="418.69" cy="183.38" r="0.6" fill="#111"/>
<circle cx="424.62" cy="179.04" r="0.6" fill="#111"/>
<circle cx="420.19" cy="181.99" r="0.6" fill="#111"/>
<circle cx="416.38" cy="179.91" r="0.6" fill="#111"/>
<circle cx="416.44" cy="177.50" r="0.6" fill="#111"/>
<circle cx="421.44" cy="176.73" r="0.6" fill="#111"/>
<circle cx="413.38" cy="177.79" r="0.6" fill="#111"/>
<circle cx="419.22" cy="178.62" r="0.6" fill="#111"/>
<circle cx="415.85" cy="174.89" r="0.6" fill="#111"/>
<circle cx="414.75" cy="179.32" r="0.6" fill="#111"/>
<circle cx="423.96" cy="179.63" r="0.6" fill="#111"/>
<circle cx="421.57" cy="176.90" r="0.6" fill="#111"/>
<circle cx="423.11" cy="177.37" r="0.6" fill="#111"/>
<circle cx="419.98" cy="177.07" r="0.6" fill="#111"/>
<circle cx="420.81" cy="177.43" r="0.6" fill="#111"/>
<circle cx="415.89" cy="176.66" r="0.6" fill="#111"/>
<circle cx="420.51" cy="177.51" r="0.6" fill="#111"/>
<circle cx="415.48" cy="175.80" r="0.6" fill="#111"/>
<circle cx="414.78" cy="180.38" r="0.6" fill="#111"/>
<circle cx="421.89" cy="183.10" r="0.6" fill="#111"/>
<circle cx="420.57" cy="180.27" r="0.6" fill="#111"/>
<circle cx="421.40" cy="176.62" r="0.6" fill="#111"/>
<circle cx="419.23" cy="182.40" r="0.6" fill="#111"/>
<circle cx="417.67" cy="179.31" r="0.6" fill="#111"/>
<circle cx="416.64" cy="181.26" r="0.6" fill="#111"/>
<circle cx="422.75" cy="176.54" r="0.6" fill="#111"/>
<circle cx="413.40" cy="180.73" r="0.6" fill="#111"/>
<circle cx="413.91" cy="178.83" r="0.6" fill="#111"/>
<circle cx="422.56" cy="179.14" r="0.6" fill="#111"/>
<circle cx="418.31" cy="175.01" r="0.6" fill="#111"/>
<circle cx="413.55" cy="177.15" r="0.6" fill="#111"/>
<circle cx="423.27" cy="177.16" r="0.6" fill="#111"/>
<circle cx="423.97" cy="181.32" r="0.6" fill="#111"/>
<circle cx="414.47" cy="177.16" r="0.6" fill="#111"/>
<circle cx="420.47" cy="179.75" r="0.6" fill="#111"/>
<circle cx="412.58" cy="179.70" r="0.6" fill="#111"/>
<circle cx="412.75" cy="180.63" r="0.6" fill="#111"/>
<circle cx="424.49" cy="178.95" r="0.6" fill="#111"/>
<circle cx="413.66" cy="178.38" r="0.6" fill="#111"/>
<circle cx="412.72" cy="180.19" r="0.6" fill="#111"/>
<circle cx="421.35" cy="178.55" r="0.6" fill="#111"/>
<circle cx="414.73" cy="179.57" r="0.6" fill="#111"/>
<circle cx="415.04" cy="182.97" r="0.6" fill="#111"/>
<circle cx="423.10" cy="179.92" r="0.6" fill="#111"/>
<circle cx="420.57" cy="175.96" r="0.6" fill="#111"/>
<circle cx="420.70" cy="182.07" r="0.6" fill="#111"/>
<circle cx="418.21" cy="180.96" r="0.6" fill="#111"/>
<circle cx="424.03" cy="180.93" r="0.6" fill="#111"/>
<circle cx="421.35" cy="178.71" r="0.6" fill="#111"/>
<circle cx="420.55" cy="179.78" r="0.6" fill="#111"/>
<circle cx="422.66" cy="179.43" r="0.6" fill="#111"/>
<circle cx="421.28" cy="181.07" r="0.6" fill="#111"/>
<circle cx="414.58" cy="180.31" r="0.6" fill="#111"/>
<circle cx="417.65" cy="172.06" r="0.6" fill="#111"/>
<circle cx="418.24" cy="171.30" r="0.6" fill="#111"/>
<circle cx="417.31" cy="183.85" r="0.6" fill="#111"/>
<circle cx="419.79" cy="185.18" r="0.6" fill="#111"/>
<circle cx="421.80" cy="187.06" r="0.6" fill="#111"/>
<circle cx="419.25" cy="185.10" r="0.6" fill="#111"/>
<circle cx="420.80" cy="183.04" r="0.6" fill="#111"/>
<circle cx="417.07" cy="184.34" r="0.6" fill="#111"/>
<circle cx="418.97" cy="193.50" r="0.6" fill="#111"/>
<circle cx="418.37" cy="167.25" r="0.6" fill="#111"/>
<circle cx="419.43" cy="186.44" r="0.6" fill="#111"/>
<circle cx="421.16" cy="185.85" r="0.6" fill="#111"/>
<circle cx="417.82" cy="175.89" r="0.6" fill="#111"/>
<circle cx="422.03" cy="175.65" r="0.6" fill="#111"/>
<circle cx="421.78" cy="183.72" r="0.6" fill="#111"/>
<circle cx="419.39" cy="183.55" r="0.6" fill="#111"/>
<circle cx="420.45" cy="184.08" r="0.6" fill="#111"/>
<circle cx="418.15" cy="192.68" r="0.6" fill="#111"/>
<circle cx="416.86" cy="188.29" r="0.6" fill="#111"/>
<circle cx="422.14" cy="185.95" r="0.6" fill="#111"/>
<circle cx="418.30" cy="183.27" r="0.6" fill="#111"/>
<circle cx="417.45" cy="168.81" r="0.6" fill="#111"/>
<circle cx="414.20" cy="175.88" r="0.6" fill="#111"/>
<circle cx="419.66" cy="191.85" r="0.6" fill="#111"/>
<circle cx="422.64" cy="183.29" r="0.6" fill="#111"/>
<circle cx="418.54" cy="169.08" r="0.6" fill="#111"/>
<circle cx="415.94" cy="173.07" r="0.6" fill="#111"/>
<circle cx="419.06" cy="157.95" r="0.6" fill="#111"/>
<circle cx="418.39" cy="158.55" r="0.6" fill="#111"/>
<circle cx="418.79" cy="191.25" r="0.6" fill="#111"/>
<line x1="413.16" x2="424.16" y1="179.25" y2="179.25" stroke="#000" stroke-width="1.0"/>
<rect x="430.94" y="176.60" width="10.8" height="5.50" rx="2.5" ry="2" fill="#1a1a1a" opacity="0.82"/>
<circle cx="435.14" cy="178.71" r="0.6" fill="#111"/>
<circle cx="430.91" cy="178.31" r="0.6" fill="#111"/>
<circle cx="442.60" cy="179.24" r="0.6" fill="#111"/>
<circle cx="437.98" cy="178.74" r="0.6" fill="#111"/>
<circle cx="439.89" cy="179.97" r="0.6" fill="#111"/>
<circle cx="434.57" cy="180.73" r="0.6" fill="#111"/>
<circle cx="436.54" cy="181.42" r="0.6" fill="#111"/>
<circle cx="442.45" cy="179.83" r="0.6" fill="#111"/>
<circle cx="440.95" cy="179.41" r="0.6" fill="#111"/>
<circle cx="434.08" cy="176.97" r="0.6" fill="#111"/>
<circle cx="439.85" cy="179.55" r="0.6" fill="#111"/>
<circle cx="437.89" cy="175.37" r="0.6" fill="#111"/>
<circle cx="439.62" cy="181.35" r="0.6" fill="#111"/>
<circle cx="431.05" cy="180.72" r="0.6" fill="#111"/>
<circle cx="432.59" cy="179.03" r="0.6" fill="#111"/>
<circle cx="430.71" cy="179.67" r="0.6" fill="#111"/>
<circle cx="437.05" cy="180.05" r="0.6" fill="#111"/>
<circle cx="441.43" cy="180.75" r="0.6" fill="#111"/>
<circle cx="440.96" cy="177.87" r="0.6" fill="#111"/>
<circle cx="435.35" cy="181.64" r="0.6" fill="#111"/>
<circle cx="431.78" cy="180.33" r="0.6" fill="#111"/>
<circle cx="437.08" cy="180.72" r="0.6" fill="#111"/>
<circle cx="438.10" cy="178.99" r="0.6" fill="#111"/>
<circle cx="435.39" cy="181.99" r="0.6" fill="#111"/>
<circle cx="435.71" cy="178.61" r="0.6" fill="#111"/>
<circle cx="440.77" cy="181.92" r="0.6" fill="#111"/>
<circle cx="434.75" cy="183.39" r="0.6" fill="#111"/>
<circle cx="434.65" cy="180.72" r="0.6" fill="#111"/>
<circle cx="441.38" cy="179.69" r="0.6" fill="#111"/>
<circle cx="432.60" cy="182.25" r="0.6" fill="#111"/>
<circle cx="439.29" cy="177.37" r="0.6" fill="#111"/>
<circle cx="442.32" cy="178.68" r="0.6" fill="#111"/>
<circle cx="432.33" cy="176.78" r="0.6" fill="#111"/>
<circle cx="440.95" cy="181.25" r="0.6" fill="#111"/>
<circle cx="437.99" cy="181.79" r="0.6" fill="#111"/>
<circle cx="439.50" cy="178.61" r="0.6" fill="#111"/>
<circle cx="432.58" cy="181.70" r="0.6" fill="#111"/>
<circle cx="431.70" cy="178.71" r="0.6" fill="#111"/>
<circle cx="436.12" cy="180.62" r="0.6" fill="#111"/>
<circle cx="431.95" cy="180.02" r="0.6" fill="#111"/>
<circle cx="433.46" cy="184.48" r="0.6" fill="#111"/>
<circle cx="439.87" cy="175.55" r="0.6" fill="#111"/>
<circle cx="438.90" cy="174.02" r="0.6" fill="#111"/>
<circle cx="436.16" cy="171.74" r="0.6" fill="#111"/>
<circle cx="437.68" cy="171.28" r="0.6" fill="#111"/>
<circle cx="435.48" cy="173.64" r="0.6" fill="#111"/>
<circle cx="436.25" cy="186.08" r="0.6" fill="#111"/>
<circle cx="433.21" cy="174.80" r="0.6" fill="#111"/>
<circle cx="436.71" cy="183.75" r="0.6" fill="#111"/>
<circle cx="436.00" cy="172.22" r="0.6" fill="#111"/>
<circle cx="435.64" cy="171.16" r="0.6" fill="#111"/>
<circle cx="437.02" cy="171.75" r="0.6" fill="#111"/>
<circle cx="436.01" cy="185.25" r="0.6" fill="#111"/>
<line x1="430.84" x2="441.84" y1="179.25" y2="179.25" stroke="#000" stroke-width="1.0"/>
<rect x="448.62" y="176.20" width="10.8" height="7.20" rx="2.5" ry="2" fill="#1a1a1a" opacity="0.82"/>
<circle cx="451.86" cy="181.13" r="0.6" fill="#111"/>
<circle cx="458.28" cy="182.13" r="0.6" fill="#111"/>
<circle cx="451.32" cy="184.63" r="0.6" fill="#111"/>
<circle cx="456.86" cy="184.01" r="0.6" fill="#111"/>
<circle cx="453.74" cy="179.02" r="0.6" fill="#111"/>
<circle cx="451.49" cy="178.41" r="0.6" fill="#111"/>
<circle cx="452.31" cy="179.72" r="0.6" fill="#111"/>
<circle cx="459.74" cy="181.35" r="0.6" fill="#111"/>
<circle cx="451.85" cy="185.06" r="0.6" fill="#111"/>
<circle cx="451.37" cy="179.74" r="0.6" fill="#111"/>
<circle cx="456.84" cy="180.43" r="0.6" fill="#111"/>
<circle cx="451.44" cy="179.32" r="0.6" fill="#111"/>
<circle cx="457.87" cy="180.21" r="0.6" fill="#111"/>
<circle cx="452.02" cy="179.74" r="0.6" fill="#111"/>
<circle cx="458.21" cy="179.89" r="0.6" fill="#111"/>
<circle cx="454.35" cy="179.91" r="0.6" fill="#111"/>
<circle cx="459.05" cy="180.77" r="0.6" fill="#111"/>
<circle cx="451.02" cy="182.07" r="0.6" fill="#111"/>
<circle cx="450.16" cy="178.67" r="0.6" fill="#111"/>
<circle cx="457.39" cy="179.25" r="0.6" fill="#111"/>
<circle cx="448.74" cy="179.43" r="0.6" fill="#111"/>
<circle cx="449.18" cy="178.32" r="0.6" fill="#111"/>
<circle cx="451.55" cy="177.70" r="0.6" fill="#111"/>
<circle cx="450.65" cy="178.10" r="0.6" fill="#111"/>
<circle cx="457.09" cy="177.04" r="0.6" fill="#111"/>
<circle cx="454.89" cy="177.45" r="0.6" fill="#111"/>
<circle cx="456.95" cy="180.05" r="0.6" fill="#111"/>
<circle cx="452.89" cy="180.61" r="0.6" fill="#111"/>
<circle cx="457.93" cy="179.66" r="0.6" fill="#111"/>
<circle cx="451.98" cy="179.03" r="0.6" fill="#111"/>
<circle cx="453.95" cy="182.32" r="0.6" fill="#111"/>
<circle cx="450.23" cy="175.93" r="0.6" fill="#111"/>
<circle cx="458.01" cy="182.02" r="0.6" fill="#111"/>
<circle cx="451.26" cy="178.39" r="0.6" fill="#111"/>
<circle cx="452.50" cy="181.51" r="0.6" fill="#111"/>
<circle cx="451.48" cy="183.81" r="0.6" fill="#111"/>
<circle cx="448.64" cy="177.66" r="0.6" fill="#111"/>
<circle cx="454.23" cy="182.05" r="0.6" fill="#111"/>
<circle cx="450.20" cy="177.18" r="0.6" fill="#111"/>
<circle cx="456.65" cy="180.73" r="0.6" fill="#111"/>
<circle cx="452.01" cy="181.68" r="0.6" fill="#111"/>
<circle cx="455.53" cy="175.57" r="0.6" fill="#111"/>
<circle cx="449.75" cy="176.97" r="0.6" fill="#111"/>
<circle cx="457.78" cy="182.41" r="0.6" fill="#111"/>
<circle cx="454.16" cy="182.39" r="0.6" fill="#111"/>
<circle cx="454.40" cy="179.03" r="0.6" fill="#111"/>
<circle cx="459.87" cy="179.34" r="0.6" fill="#111"/>
<circle cx="450.54" cy="179.69" r="0.6" fill="#111"/>
<circle cx="450.90" cy="180.24" r="0.6" fill="#111"/>
<circle cx="457.89" cy="180.78" r="0.6" fill="#111"/>
<circle cx="456.44" cy="180.82" r="0.6" fill="#111"/>
<circle cx="450.18" cy="180.00" r="0.6" fill="#111"/>
<circle cx="454.73" cy="182.91" r="0.6" fill="#111"/>
<circle cx="454.31" cy="180.15" r="0.6" fill="#111"/>
<circle cx="458.66" cy="179.48" r="0.6" fill="#111"/>
<circle cx="456.66" cy="178.77" r="0.6" fill="#111"/>
<circle cx="453.94" cy="180.94" r="0.6" fill="#111"/>
<circle cx="454.03" cy="180.13" r="0.6" fill="#111"/>
<circle cx="452.83" cy="179.58" r="0.6" fill="#111"/>
<circle cx="449.64" cy="180.96" r="0.6" fill="#111"/>
<circle cx="451.25" cy="175.95" r="0.6" fill="#111"/>
<circle cx="454.77" cy="177.30" r="0.6" fill="#111"/>
<circle cx="458.13" cy="179.77" r="0.6" fill="#111"/>
<circle cx="453.10" cy="185.70" r="0.6" fill="#111"/>
<circle cx="453.60" cy="167.25" r="0.6" fill="#111"/>
<circle cx="455.90" cy="187.36" r="0.6" fill="#111"/>
<circle cx="453.42" cy="173.89" r="0.6" fill="#111"/>
<circle cx="456.50" cy="185.86" r="0.6" fill="#111"/>
<circle cx="452.12" cy="190.78" r="0.6" fill="#111"/>
<circle cx="457.04" cy="170.92" r="0.6" fill="#111"/>
<circle cx="455.06" cy="172.31" r="0.6" fill="#111"/>
<circle cx="454.32" cy="174.36" r="0.6" fill="#111"/>
<circle cx="450.88" cy="170.88" r="0.6" fill="#111"/>
<circle cx="458.24" cy="173.59" r="0.6" fill="#111"/>
<circle cx="456.88" cy="173.90" r="0.6" fill="#111"/>
<circle cx="455.19" cy="193.50" r="0.6" fill="#111"/>
<circle cx="454.88" cy="168.60" r="0.6" fill="#111"/>
<circle cx="454.43" cy="174.34" r="0.6" fill="#111"/>
<circle cx="454.13" cy="169.44" r="0.6" fill="#111"/>
<circle cx="457.67" cy="172.60" r="0.6" fill="#111"/>
<circle cx="450.19" cy="174.90" r="0.6" fill="#111"/>
<circle cx="457.30" cy="171.59" r="0.6" fill="#111"/>
<circle cx="454.27" cy="171.81" r="0.6" fill="#111"/>
<circle cx="450.03" cy="175.59" r="0.6" fill="#111"/>
<circle cx="452.23" cy="172.98" r="0.6" fill="#111"/>
<circle cx="450.63" cy="172.73" r="0.6" fill="#111"/>
<circle cx="454.30" cy="167.25" r="0.6" fill="#111"/>
<circle cx="451.47" cy="173.07" r="0.6" fill="#111"/>
<circle cx="455.12" cy="174.51" r="0.6" fill="#111"/>
<circle cx="452.87" cy="170.29" r="0.6" fill="#111"/>
<circle cx="452.77" cy="175.77" r="0.6" fill="#111"/>
<circle cx="450.23" cy="172.24" r="0.6" fill="#111"/>
<circle cx="454.34" cy="169.67" r="0.6" fill="#111"/>
<circle cx="453.12" cy="167.60" r="0.6" fill="#111"/>
<circle cx="455.00" cy="158.25" r="0.6" fill="#111"/>
<circle cx="453.61" cy="163.50" r="0.6" fill="#111"/>
<circle cx="454.56" cy="165.00" r="0.6" fill="#111"/>
<circle cx="453.34" cy="166.50" r="0.6" fill="#111"/>
<circle cx="453.15" cy="194.25" r="0.6" fill="#111"/>
<line x1="448.52" x2="459.52" y1="179.25" y2="179.25" stroke="#000" stroke-width="1.0"/>
<rect x="466.30" y="174.10" width="10.8" height="9.80" rx="2.5" ry="2" fill="#1a1a1a" opacity="0.82"/>
<circle cx="466.69" cy="181.25" r="0.6" fill="#111"/>
<circle cx="470.43" cy="176.64" r="0.6" fill="#111"/>
<circle cx="468.38" cy="174.41" r="0.6" fill="#111"/>
<circle cx="468.45" cy="180.82" r="0.6" fill="#111"/>
<circle cx="468.86" cy="183.79" r="0.6" fill="#111"/>
<circle cx="469.71" cy="177.75" r="0.6" fill="#111"/>
<circle cx="472.97" cy="176.28" r="0.6" fill="#111"/>
<circle cx="475.14" cy="182.63" r="0.6" fill="#111"/>
<circle cx="474.57" cy="180.58" r="0.6" fill="#111"/>
<circle cx="474.20" cy="175.71" r="0.6" fill="#111"/>
<circle cx="475.29" cy="179.21" r="0.6" fill="#111"/>
<circle cx="473.80" cy="175.57" r="0.6" fill="#111"/>
<circle cx="476.21" cy="180.36" r="0.6" fill="#111"/>
<circle cx="465.53" cy="178.19" r="0.6" fill="#111"/>
<circle cx="471.67" cy="179.40" r="0.6" fill="#111"/>
<circle cx="476.02" cy="175.00" r="0.6" fill="#111"/>
<circle cx="474.77" cy="176.17" r="0.6" fill="#111"/>
<circle cx="476.23" cy="177.63" r="0.6" fill="#111"/>
<circle cx="471.16" cy="176.69" r="0.6" fill="#111"/>
<circle cx="471.20" cy="177.15" r="0.6" fill="#111"/>
<circle cx="470.33" cy="178.58" r="0.6" fill="#111"/>
<circle cx="472.32" cy="176.52" r="0.6" fill="#111"/>
<circle cx="475.05" cy="177.01" r="0.6" fill="#111"/>
<circle cx="475.85" cy="180.77" r="0.6" fill="#111"/>
<circle cx="468.45" cy="175.72" r="0.6" fill="#111"/>
<circle cx="469.23" cy="179.01" r="0.6" fill="#111"/>
<circle cx="472.62" cy="181.43" r="0.6" fill="#111"/>
<circle cx="467.39" cy="182.13" r="0.6" fill="#111"/>
<circle cx="475.60" cy="181.35" r="0.6" fill="#111"/>
<circle cx="475.83" cy="177.71" r="0.6" fill="#111"/>
<circle cx="470.84" cy="180.98" r="0.6" fill="#111"/>
<circle cx="476.85" cy="178.48" r="0.6" fill="#111"/>
<circle cx="472.50" cy="179.94" r="0.6" fill="#111"/>
<circle cx="471.67" cy="179.06" r="0.6" fill="#111"/>
<circle cx="472.03" cy="183.57" r="0.6" fill="#111"/>
<circle cx="477.27" cy="176.50" r="0.6" fill="#111"/>
<circle cx="473.52" cy="175.37" r="0.6" fill="#111"/>
<circle cx="470.31" cy="178.60" r="0.6" fill="#111"/>
<circle cx="470.04" cy="176.45" r="0.6" fill="#111"/>
<circle cx="476.37" cy="182.17" r="0.6" fill="#111"/>
<circle cx="466.90" cy="177.35" r="0.6" fill="#111"/>
<circle cx="470.41" cy="175.69" r="0.6" fill="#111"/>
<circle cx="472.47" cy="175.85" r="0.6" fill="#111"/>
<circle cx="476.04" cy="181.26" r="0.6" fill="#111"/>
<circle cx="471.09" cy="182.41" r="0.6" fill="#111"/>
<circle cx="473.25" cy="178.23" r="0.6" fill="#111"/>
<circle cx="472.03" cy="181.77" r="0.6" fill="#111"/>
<circle cx="475.68" cy="178.93" r="0.6" fill="#111"/>
<circle cx="477.55" cy="180.26" r="0.6" fill="#111"/>
<circle cx="475.41" cy="181.33" r="0.6" fill="#111"/>
<circle cx="476.47" cy="177.54" r="0.6" fill="#111"/>
<circle cx="474.09" cy="178.88" r="0.6" fill="#111"/>
<circle cx="475.35" cy="182.95" r="0.6" fill="#111"/>
<circle cx="471.40" cy="170.68" r="0.6" fill="#111"/>
<circle cx="471.84" cy="180.39" r="0.6" fill="#111"/>
<circle cx="471.76" cy="181.08" r="0.6" fill="#111"/>
<circle cx="473.32" cy="179.73" r="0.6" fill="#111"/>
<circle cx="472.92" cy="180.78" r="0.6" fill="#111"/>
<circle cx="472.62" cy="173.18" r="0.6" fill="#111"/>
<circle cx="469.65" cy="186.68" r="0.6" fill="#111"/>
<circle cx="470.04" cy="174.48" r="0.6" fill="#111"/>
<circle cx="473.77" cy="181.81" r="0.6" fill="#111"/>
<circle cx="475.50" cy="181.58" r="0.6" fill="#111"/>
<circle cx="472.79" cy="179.06" r="0.6" fill="#111"/>
<circle cx="471.67" cy="178.01" r="0.6" fill="#111"/>
<circle cx="472.33" cy="177.26" r="0.6" fill="#111"/>
<circle cx="472.10" cy="178.56" r="0.6" fill="#111"/>
<circle cx="476.10" cy="183.34" r="0.6" fill="#111"/>
<circle cx="467.58" cy="176.22" r="0.6" fill="#111"/>
<circle cx="467.54" cy="177.60" r="0.6" fill="#111"/>
<circle cx="466.66" cy="179.09" r="0.6" fill="#111"/>
<circle cx="467.71" cy="177.57" r="0.6" fill="#111"/>
<circle cx="472.71" cy="167.66" r="0.6" fill="#111"/>
<circle cx="467.13" cy="174.77" r="0.6" fill="#111"/>
<circle cx="470.24" cy="175.44" r="0.6" fill="#111"/>
<circle cx="470.18" cy="172.01" r="0.6" fill="#111"/>
<circle cx="471.17" cy="168.05" r="0.6" fill="#111"/>
<circle cx="471.14" cy="170.25" r="0.6" fill="#111"/>
<circle cx="473.13" cy="167.25" r="0.6" fill="#111"/>
<circle cx="472.57" cy="172.76" r="0.6" fill="#111"/>
<circle cx="475.41" cy="182.56" r="0.6" fill="#111"/>
<circle cx="475.37" cy="174.60" r="0.6" fill="#111"/>
<circle cx="475.84" cy="174.41" r="0.6" fill="#111"/>
<circle cx="474.82" cy="172.44" r="0.6" fill="#111"/>
<circle cx="468.83" cy="175.75" r="0.6" fill="#111"/>
<circle cx="473.95" cy="171.48" r="0.6" fill="#111"/>
<circle cx="470.57" cy="168.00" r="0.6" fill="#111"/>
<circle cx="468.64" cy="175.17" r="0.6" fill="#111"/>
<circle cx="469.09" cy="172.28" r="0.6" fill="#111"/>
<circle cx="470.57" cy="175.29" r="0.6" fill="#111"/>
<circle cx="474.69" cy="174.59" r="0.6" fill="#111"/>
<circle cx="469.25" cy="175.00" r="0.6" fill="#111"/>
<circle cx="467.41" cy="174.62" r="0.6" fill="#111"/>
<circle cx="470.59" cy="172.52" r="0.6" fill="#111"/>
<circle cx="470.20" cy="172.03" r="0.6" fill="#111"/>
<circle cx="469.92" cy="170.11" r="0.6" fill="#111"/>
<circle cx="470.54" cy="167.93" r="0.6" fill="#111"/>
<circle cx="473.36" cy="172.96" r="0.6" fill="#111"/>
<circle cx="473.22" cy="167.83" r="0.6" fill="#111"/>
<circle cx="470.76" cy="168.02" r="0.6" fill="#111"/>
<circle cx="469.73" cy="173.67" r="0.6" fill="#111"/>
<circle cx="472.56" cy="183.25" r="0.6" fill="#111"/>
<circle cx="469.34" cy="173.66" r="0.6" fill="#111"/>
<circle cx="468.68" cy="185.05" r="0.6" fill="#111"/>
<circle cx="473.05" cy="170.34" r="0.6" fill="#111"/>
<circle cx="473.28" cy="175.49" r="0.6" fill="#111"/>
<circle cx="468.84" cy="172.41" r="0.6" fill="#111"/>
<circle cx="474.84" cy="174.35" r="0.6" fill="#111"/>
<circle cx="472.17" cy="173.09" r="0.6" fill="#111"/>
<circle cx="471.70" cy="169.97" r="0.6" fill="#111"/>
<circle cx="468.95" cy="175.47" r="0.6" fill="#111"/>
<circle cx="473.64" cy="174.36" r="0.6" fill="#111"/>
<circle cx="474.35" cy="183.47" r="0.6" fill="#111"/>
<circle cx="473.86" cy="187.03" r="0.6" fill="#111"/>
<circle cx="473.15" cy="173.51" r="0.6" fill="#111"/>
<circle cx="470.54" cy="173.28" r="0.6" fill="#111"/>
<circle cx="470.45" cy="170.32" r="0.6" fill="#111"/>
<circle cx="470.67" cy="172.50" r="0.6" fill="#111"/>
<circle cx="471.96" cy="166.50" r="0.6" fill="#111"/>
<circle cx="471.06" cy="189.00" r="0.6" fill="#111"/>
<line x1="466.20" x2="477.20" y1="179.25" y2="179.25" stroke="#000" stroke-width="1.0"/>
<rect x="483.98" y="177.00" width="10.8" height="4.60" rx="2.5" ry="2" fill="#1a1a1a" opacity="0.82"/>
<circle cx="491.23" cy="181.94" r="0.6" fill="#111"/>
<circle cx="491.24" cy="181.63" r="0.6" fill="#111"/>
<circle cx="485.18" cy="179.74" r="0.6" fill="#111"/>
<circle cx="485.58" cy="179.41" r="0.6" fill="#111"/>
<circle cx="483.68" cy="178.79" r="0.6" fill="#111"/>
<circle cx="487.33" cy="180.78" r="0.6" fill="#111"/>
<circle cx="493.54" cy="178.65" r="0.6" fill="#111"/>
<circle cx="490.23" cy="178.53" r="0.6" fill="#111"/>
<circle cx="488.56" cy="179.05" r="0.6" fill="#111"/>
<circle cx="491.49" cy="178.10" r="0.6" fill="#111"/>
<circle cx="493.59" cy="179.26" r="0.6" fill="#111"/>
<circle cx="492.86" cy="179.36" r="0.6" fill="#111"/>
<circle cx="493.84" cy="179.19" r="0.6" fill="#111"/>
<circle cx="490.71" cy="179.76" r="0.6" fill="#111"/>
<circle cx="484.90" cy="180.44" r="0.6" fill="#111"/>
<circle cx="493.02" cy="179.65" r="0.6" fill="#111"/>
<circle cx="492.36" cy="180.18" r="0.6" fill="#111"/>
<circle cx="486.95" cy="182.73" r="0.6" fill="#111"/>
<circle cx="492.44" cy="178.76" r="0.6" fill="#111"/>
<circle cx="492.93" cy="177.80" r="0.6" fill="#111"/>
<circle cx="495.00" cy="179.17" r="0.6" fill="#111"/>
<circle cx="488.45" cy="179.98" r="0.6" fill="#111"/>
<circle cx="491.54" cy="181.52" r="0.6" fill="#111"/>
<circle cx="493.24" cy="178.26" r="0.6" fill="#111"/>
<circle cx="484.30" cy="178.09" r="0.6" fill="#111"/>
<circle cx="491.62" cy="178.04" r="0.6" fill="#111"/>
<circle cx="493.79" cy="177.58" r="0.6" fill="#111"/>
<circle cx="484.91" cy="180.13" r="0.6" fill="#111"/>
<circle cx="491.93" cy="179.34" r="0.6" fill="#111"/>
<circle cx="493.17" cy="178.82" r="0.6" fill="#111"/>
<circle cx="495.29" cy="179.16" r="0.6" fill="#111"/>
<circle cx="490.70" cy="181.30" r="0.6" fill="#111"/>
<circle cx="484.32" cy="178.14" r="0.6" fill="#111"/>
<circle cx="487.60" cy="178.97" r="0.6" fill="#111"/>
<circle cx="487.12" cy="178.39" r="0.6" fill="#111"/>
<circle cx="484.90" cy="179.86" r="0.6" fill="#111"/>
<circle cx="486.17" cy="178.67" r="0.6" fill="#111"/>
<circle cx="487.09" cy="177.01" r="0.6" fill="#111"/>
<circle cx="493.87" cy="177.58" r="0.6" fill="#111"/>
<circle cx="487.51" cy="179.13" r="0.6" fill="#111"/>
<circle cx="485.17" cy="178.29" r="0.6" fill="#111"/>
<circle cx="489.79" cy="182.46" r="0.6" fill="#111"/>
<circle cx="489.90" cy="177.83" r="0.6" fill="#111"/>
<circle cx="491.51" cy="181.84" r="0.6" fill="#111"/>
<circle cx="490.52" cy="180.45" r="0.6" fill="#111"/>
<circle cx="490.53" cy="171.09" r="0.6" fill="#111"/>
<circle cx="488.15" cy="175.05" r="0.6" fill="#111"/>
<circle cx="485.91" cy="174.34" r="0.6" fill="#111"/>
<circle cx="488.90" cy="183.03" r="0.6" fill="#111"/>
<circle cx="488.18" cy="173.51" r="0.6" fill="#111"/>
<circle cx="486.97" cy="172.46" r="0.6" fill="#111"/>
<circle cx="493.83" cy="175.25" r="0.6" fill="#111"/>
<circle cx="494.12" cy="182.55" r="0.6" fill="#111"/>
<circle cx="486.27" cy="174.38" r="0.6" fill="#111"/>
<circle cx="489.60" cy="171.96" r="0.6" fill="#111"/>
<circle cx="493.39" cy="175.67" r="0.6" fill="#111"/>
<circle cx="490.28" cy="185.79" r="0.6" fill="#111"/>
<circle cx="488.12" cy="171.79" r="0.6" fill="#111"/>
<circle cx="488.66" cy="165.75" r="0.6" fill="#111"/>
<circle cx="488.44" cy="170.25" r="0.6" fill="#111"/>
<line x1="483.88" x2="494.88" y1="179.25" y2="179.25" stroke="#000" stroke-width="1.0"/>
<rect x="501.66" y="177.00" width="10.8" height="4.60" rx="2.5" ry="2" fill="#1a1a1a" opacity="0.82"/>
<circle cx="504.53" cy="179.77" r="0.6" fill="#111"/>
<circle cx="504.89" cy="176.28" r="0.6" fill="#111"/>
<circle cx="511.17" cy="177.31" r="0.6" fill="#111"/>
<circle cx="504.18" cy="176.95" r="0.6" fill="#111"/>
<circle cx="510.03" cy="179.95" r="0.6" fill="#111"/>
<circle cx="505.83" cy="176.37" r="0.6" fill="#111"/>
<circle cx="505.00" cy="180.49" r="0.6" fill="#111"/>
<circle cx="506.05" cy="182.03" r="0.6" fill="#111"/>
<circle cx="510.67" cy="177.85" r="0.6" fill="#111"/>
<circle cx="503.83" cy="178.82" r="0.6" fill="#111"/>
<circle cx="508.29" cy="181.29" r="0.6" fill="#111"/>
<circle cx="511.01" cy="179.83" r="0.6" fill="#111"/>
<circle cx="512.33" cy="178.35" r="0.6" fill="#111"/>
<circle cx="507.03" cy="175.97" r="0.6" fill="#111"/>
<circle cx="504.68" cy="178.37" r="0.6" fill="#111"/>
<circle cx="508.08" cy="179.30" r="0.6" fill="#111"/>
<circle cx="503.94" cy="181.43" r="0.6" fill="#111"/>
<circle cx="506.41" cy="180.48" r="0.6" fill="#111"/>
<circle cx="501.44" cy="179.98" r="0.6" fill="#111"/>
<circle cx="506.30" cy="179.17" r="0.6" fill="#111"/>
<circle cx="501.16" cy="180.23" r="0.6" fill="#111"/>
<circle cx="509.99" cy="181.68" r="0.6" fill="#111"/>
<circle cx="506.29" cy="181.02" r="0.6" fill="#111"/>
<circle cx="505.10" cy="177.09" r="0.6" fill="#111"/>
<circle cx="506.13" cy="178.29" r="0.6" fill="#111"/>
<circle cx="505.36" cy="177.67" r="0.6" fill="#111"/>
<circle cx="510.03" cy="177.11" r="0.6" fill="#111"/>
<circle cx="511.88" cy="180.19" r="0.6" fill="#111"/>
<circle cx="506.37" cy="179.98" r="0.6" fill="#111"/>
<circle cx="507.79" cy="180.45" r="0.6" fill="#111"/>
<circle cx="501.96" cy="178.69" r="0.6" fill="#111"/>
<circle cx="504.95" cy="180.16" r="0.6" fill="#111"/>
<circle cx="508.83" cy="175.18" r="0.6" fill="#111"/>
<circle cx="511.33" cy="180.34" r="0.6" fill="#111"/>
<circle cx="507.60" cy="183.32" r="0.6" fill="#111"/>
<circle cx="510.87" cy="178.65" r="0.6" fill="#111"/>
<circle cx="508.04" cy="181.53" r="0.6" fill="#111"/>
<circle cx="504.64" cy="180.18" r="0.6" fill="#111"/>
<circle cx="506.95" cy="175.75" r="0.6" fill="#111"/>
<circle cx="508.58" cy="177.60" r="0.6" fill="#111"/>
<circle cx="504.27" cy="183.18" r="0.6" fill="#111"/>
<circle cx="507.75" cy="173.98" r="0.6" fill="#111"/>
<circle cx="506.37" cy="183.45" r="0.6" fill="#111"/>
<circle cx="506.51" cy="182.86" r="0.6" fill="#111"/>
<circle cx="505.90" cy="173.10" r="0.6" fill="#111"/>
<circle cx="509.42" cy="175.41" r="0.6" fill="#111"/>
<circle cx="505.79" cy="183.60" r="0.6" fill="#111"/>
<circle cx="507.26" cy="175.62" r="0.6" fill="#111"/>
<circle cx="505.12" cy="182.58" r="0.6" fill="#111"/>
<circle cx="505.83" cy="185.16" r="0.6" fill="#111"/>
<circle cx="506.79" cy="172.96" r="0.6" fill="#111"/>
<circle cx="506.21" cy="174.00" r="0.6" fill="#111"/>
<circle cx="506.94" cy="183.00" r="0.6" fill="#111"/>
<line x1="501.56" x2="512.56" y1="179.25" y2="179.25" stroke="#000" stroke-width="1.0"/>
<line x1="286.3" x2="286.3" y1="133.9" y2="239.75" stroke="#111" stroke-width="0.9"/>
<line x1="285.90000000000003" x2="516.4" y1="239.25" y2="239.25" stroke="#111" stroke-width="0.9"/>
<line x1="284.8" x2="286.3" y1="134.25" y2="134.25" stroke="#111" stroke-width="0.7"/>
<text x="284.3" y="135.65" font-family="Liberation Sans, sans-serif" font-weight="bold" font-size="4" text-anchor="end">3</text>
<line x1="284.8" x2="286.3" y1="149.25" y2="149.25" stroke="#111" stroke-width="0.7"/>
<text x="284.3" y="150.65" font-family="Liberation Sans, sans-serif" font-weight="bold" font-size="4" text-anchor="end">2</text>
<line x1="284.8" x2="286.3" y1="164.25" y2="164.25" stroke="#111" stroke-width="0.7"/>
<text x="284.3" y="165.65" font-family="Liberation Sans, sans-serif" font-weight="bold" font-size="4" text-anchor="end">1</text>
<line x1="284.8" x2="286.3" y1="179.25" y2="179.25" stroke="#111" stroke-width="0.7"/>
<text x="284.3" y="180.65" font-family="Liberation Sans, sans-serif" font-weight="bold" font-size="4" text-anchor="end">0</text>
<line x1="284.8" x2="286.3" y1="194.25" y2="194.25" stroke="#111" stroke-width="0.7"/>
<text x="284.3" y="195.65" font-family="Liberation Sans, sans-serif" font-weight="bold" font-size="4" text-anchor="end">-1</text>
<line x1="284.8" x2="286.3" y1="209.25" y2="209.25" stroke="#111" stroke-width="0.7"/>
<text x="284.3" y="210.65" font-family="Liberation Sans, sans-serif" font-weight="bold" font-size="4" text-anchor="end">-2</text>
<line x1="284.8" x2="286.3" y1="224.25" y2="224.25" stroke="#111" stroke-width="0.7"/>
<text x="284.3" y="225.65" font-family="Liberation Sans, sans-serif" font-weight="bold" font-size="4" text-anchor="end">-3</text>
<line x1="284.8" x2="286.3" y1="239.25" y2="239.25" stroke="#111" stroke-width="0.7"/>
<text x="284.3" y="240.65" font-family="Liberation Sans, sans-serif" font-weight="bold" font-size="4" text-anchor="end">-4</text>
<line x1="294.90" x2="294.90" y1="239.25" y2="241.25" stroke="#111" stroke-width="0.8"/>
<text transform="translate(296.40,245.45) rotate(-45)" font-family="Liberation Sans, sans-serif" font-weight="bold" font-size="4.4" stroke="#000" stroke-width="0.1" text-anchor="end">TALL-1</text>
<line x1="312.58" x2="312.58" y1="239.25" y2="241.25" stroke="#111" stroke-width="0.8"/>
<text transform="translate(314.08,245.45) rotate(-45)" font-family="Liberation Sans, sans-serif" font-weight="bold" font-size="4.4" stroke="#000" stroke-width="0.1" text-anchor="end">HPB-ALL</text>
<line x1="330.26" x2="330.26" y1="239.25" y2="241.25" stroke="#111" stroke-width="0.8"/>
<text transform="translate(331.76,245.45) rotate(-45)" font-family="Liberation Sans, sans-serif" font-weight="bold" font-size="4.4" stroke="#000" stroke-width="0.1" text-anchor="end">ALL-SIL</text>
<line x1="347.94" x2="347.94" y1="239.25" y2="241.25" stroke="#111" stroke-width="0.8"/>
<text transform="translate(349.44,245.45) rotate(-45)" font-family="Liberation Sans, sans-serif" font-weight="bold" font-size="4.4" stroke="#000" stroke-width="0.1" text-anchor="end">KOPT-K1</text>
<line x1="365.62" x2="365.62" y1="239.25" y2="241.25" stroke="#111" stroke-width="0.8"/>
<text transform="translate(367.12,245.45) rotate(-45)" font-family="Liberation Sans, sans-serif" font-weight="bold" font-size="4.4" stroke="#000" stroke-width="0.1" text-anchor="end">DND-41</text>
<line x1="383.30" x2="383.30" y1="239.25" y2="241.25" stroke="#111" stroke-width="0.8"/>
<text transform="translate(384.80,245.45) rotate(-45)" font-family="Liberation Sans, sans-serif" font-weight="bold" font-size="4.4" stroke="#000" stroke-width="0.1" text-anchor="end">MOLT-4</text>
<line x1="400.98" x2="400.98" y1="239.25" y2="241.25" stroke="#111" stroke-width="0.8"/>
<text transform="translate(402.48,245.45) rotate(-45)" font-family="Liberation Sans, sans-serif" font-weight="bold" font-size="4.4" stroke="#000" stroke-width="0.1" text-anchor="end">PF-382</text>
<line x1="418.66" x2="418.66" y1="239.25" y2="241.25" stroke="#111" stroke-width="0.8"/>
<text transform="translate(420.16,245.45) rotate(-45)" font-family="Liberation Sans, sans-serif" font-weight="bold" font-size="4.4" stroke="#000" stroke-width="0.1" text-anchor="end">CCRF-CEM</text>
<line x1="436.34" x2="436.34" y1="239.25" y2="241.25" stroke="#111" stroke-width="0.8"/>
<text transform="translate(437.84,245.45) rotate(-45)" font-family="Liberation Sans, sans-serif" font-weight="bold" font-size="4.4" stroke="#000" stroke-width="0.1" text-anchor="end">H9</text>
<line x1="454.02" x2="454.02" y1="239.25" y2="241.25" stroke="#111" stroke-width="0.8"/>
<text transform="translate(455.52,245.45) rotate(-45)" font-family="Liberation Sans, sans-serif" font-weight="bold" font-size="4.4" stroke="#000" stroke-width="0.1" text-anchor="end">JURKAT</text>
<line x1="471.70" x2="471.70" y1="239.25" y2="241.25" stroke="#111" stroke-width="0.8"/>
<text transform="translate(473.20,245.45) rotate(-45)" font-family="Liberation Sans, sans-serif" font-weight="bold" font-size="4.4" stroke="#000" stroke-width="0.1" text-anchor="end">PEER</text>
<line x1="489.38" x2="489.38" y1="239.25" y2="241.25" stroke="#111" stroke-width="0.8"/>
<text transform="translate(490.88,245.45) rotate(-45)" font-family="Liberation Sans, sans-serif" font-weight="bold" font-size="4.4" stroke="#000" stroke-width="0.1" text-anchor="end">P12</text>
<line x1="507.06" x2="507.06" y1="239.25" y2="241.25" stroke="#111" stroke-width="0.8"/>
<text transform="translate(508.56,245.45) rotate(-45)" font-family="Liberation Sans, sans-serif" font-weight="bold" font-size="4.4" stroke="#000" stroke-width="0.1" text-anchor="end">LOUCY</text>
<text transform="translate(276.6,187) rotate(-90)" font-family="Liberation Sans, sans-serif" font-weight="bold" font-size="4.7" stroke="#000" stroke-width="0.1" text-anchor="middle">Fold Change (log<tspan font-size="3" dy="1">2</tspan><tspan dy="-1">)</tspan></text>
<line x1="286.2" x2="383.8" y1="262.7" y2="262.7" stroke="#74de74" stroke-width="1.9"/>
<line x1="391.2" x2="513.8" y1="262.7" y2="262.7" stroke="#ee6f78" stroke-width="1.9"/>
<text x="332.9" y="271.2" font-family="Liberation Sans, sans-serif" font-size="7.3" fill="#222" stroke="#222" stroke-width="0.12" text-anchor="middle">Sensitive</text>
<text x="455.3" y="271.2" font-family="Liberation Sans, sans-serif" font-size="7.3" fill="#222" stroke="#222" stroke-width="0.12" text-anchor="middle">Resistant</text>
</svg>
</body></html>
